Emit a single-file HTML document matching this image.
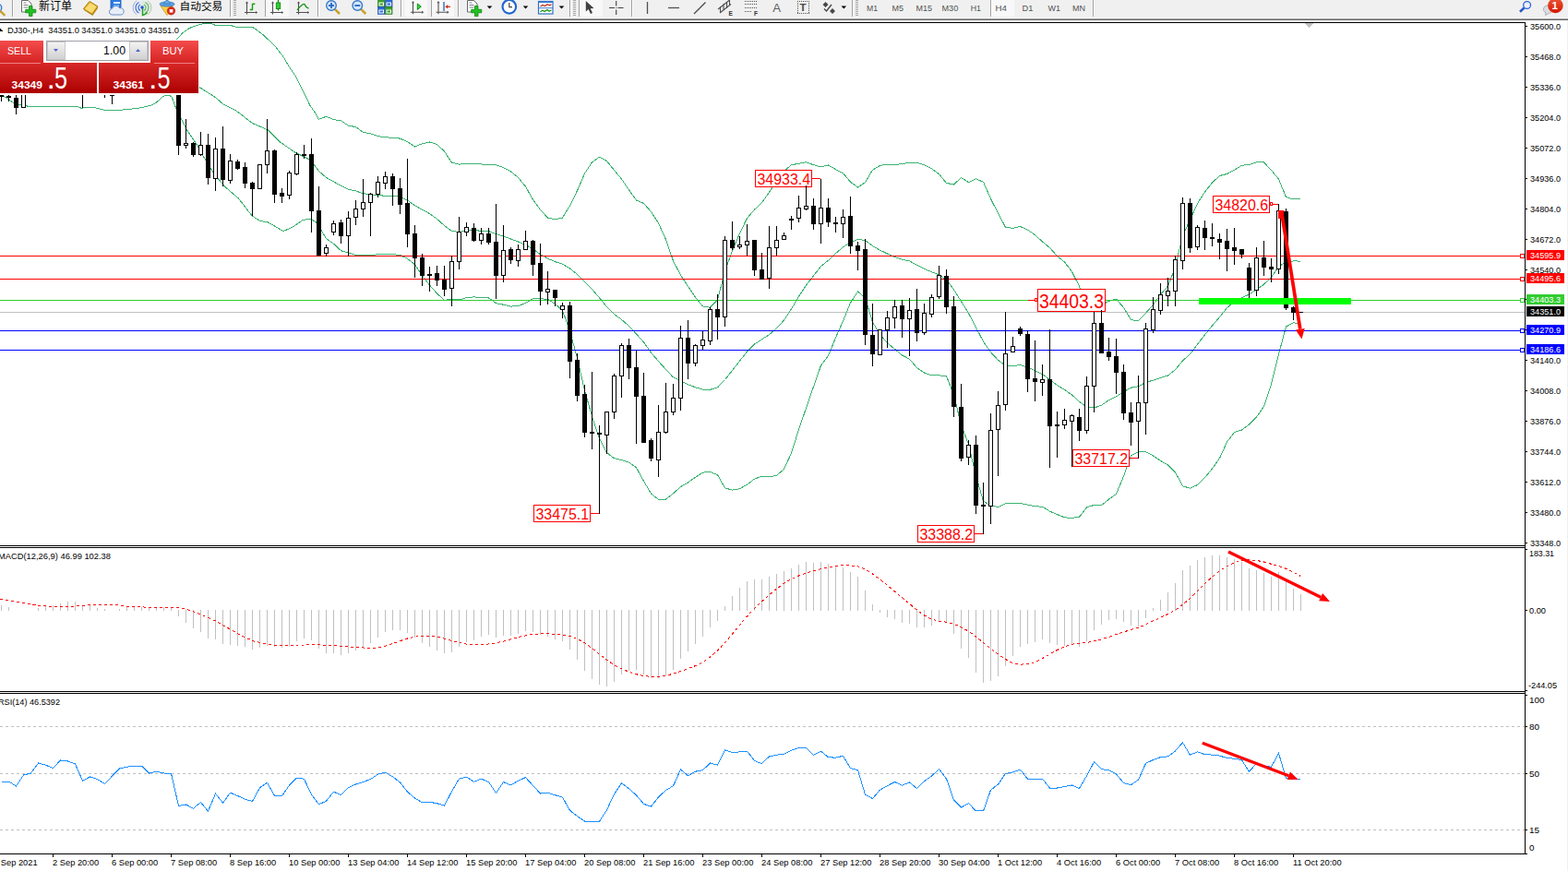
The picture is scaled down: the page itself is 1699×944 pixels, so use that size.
<!DOCTYPE html><html><head><meta charset="utf-8"><style>html,body{margin:0;padding:0;background:#fff;overflow:hidden}svg{display:block}</style></head><body><svg width="1699" height="944" viewBox="0 0 1699 944" font-family="Liberation Sans, sans-serif" shape-rendering="crispEdges">
<defs><clipPath id="mainclip"><rect x="0" y="25" width="1652" height="566"/></clipPath>
<linearGradient id="gbtn" x1="0" y1="0" x2="0" y2="1"><stop offset="0" stop-color="#f44c4c"/><stop offset="1" stop-color="#d42222"/></linearGradient>
<linearGradient id="gprice" x1="0" y1="0" x2="0" y2="1"><stop offset="0" stop-color="#d82828"/><stop offset="1" stop-color="#ac0000"/></linearGradient>
<linearGradient id="gspin" x1="0" y1="0" x2="0" y2="1"><stop offset="0" stop-color="#f4f4f4"/><stop offset="1" stop-color="#d0d0d0"/></linearGradient>
</defs>
<rect x="0" y="0" width="1699" height="944" fill="#fff"/>
<rect x="0" y="0" width="1699" height="20" fill="#f0f0f0"/>
<rect x="0" y="20" width="1699" height="1" fill="#a0a0a0"/>
<rect x="0" y="21" width="1699" height="1" fill="#696969"/>
<rect x="0" y="24" width="1653" height="1" fill="#000"/>
<rect x="1652" y="24" width="1" height="902" fill="#000"/>
<rect x="0" y="591" width="1653" height="1" fill="#000"/>
<rect x="0" y="593" width="1653" height="1" fill="#000"/>
<rect x="0" y="749" width="1653" height="1" fill="#000"/>
<rect x="0" y="751" width="1653" height="1" fill="#000"/>
<rect x="0" y="925" width="1653" height="1" fill="#000"/>
<rect x="1698" y="22" width="1" height="922" fill="#f0f0f0"/>
<rect x="0" y="338" width="1652" height="1" fill="#c0c0c0"/>
<g clip-path="url(#mainclip)">
<polyline points="150.0,80.0 186.0,48.0 192.4,41.7 197.7,35.9 205.0,30.6 213.6,27.4 221.0,25.4 227.0,25.1 233.0,27.2 241.0,27.4 250.6,27.7 256.0,29.4 270.0,29.4 273.8,29.6 277.6,32.1 285.2,37.8 298.0,49.9 306.8,61.3 313.2,72.1 320.8,83.5 325.9,93.7 331.0,103.9 336.1,114.7 341.2,121.7 345.2,129.3 353.5,126.3 361.5,129.6 369.5,130.8 377.5,136.2 385.5,137.5 393.5,143.5 401.5,144.7 409.5,147.6 417.5,148.8 425.5,149.3 433.5,150.1 441.5,153.7 449.5,159.0 457.5,155.7 465.5,154.0 473.5,156.6 481.5,164.0 489.5,176.3 497.5,178.1 505.5,177.5 513.5,177.4 521.5,178.0 529.5,178.2 537.5,178.7 545.5,181.6 553.5,186.0 561.5,192.4 569.5,202.2 577.5,216.3 585.5,227.4 593.5,236.1 601.5,237.8 609.5,236.0 617.5,222.9 625.5,206.6 633.5,188.1 641.5,175.9 649.5,170.1 657.5,174.5 665.5,184.5 673.5,194.1 681.5,205.9 689.5,217.0 697.5,220.4 705.5,229.5 713.5,241.8 721.5,259.6 729.5,282.9 737.5,298.1 745.5,310.4 753.5,322.3 761.5,332.0 769.5,333.2 777.5,325.1 785.5,294.1 793.5,271.9 801.5,252.9 809.5,236.5 817.5,227.2 825.5,219.8 833.5,208.3 841.5,196.2 849.5,185.5 857.5,178.8 865.5,177.2 873.5,175.8 881.5,178.7 889.5,180.9 897.5,179.0 905.5,183.6 913.5,187.6 921.5,197.2 929.5,203.0 937.5,197.8 945.5,184.1 953.5,179.5 961.5,178.1 969.5,178.8 977.5,177.4 985.5,176.6 993.5,176.3 1001.5,178.8 1009.5,182.6 1017.5,188.7 1025.5,198.4 1033.5,200.0 1041.5,192.5 1049.5,197.6 1057.5,193.9 1065.5,197.2 1073.5,215.5 1081.5,231.2 1089.5,246.3 1097.5,247.3 1105.5,245.5 1113.5,249.1 1121.5,254.6 1129.5,262.0 1137.5,268.6 1145.5,277.6 1153.5,284.0 1161.5,294.6 1169.5,310.2 1177.5,332.5 1185.5,336.8 1193.5,330.7 1201.5,326.3 1209.5,324.1 1217.5,333.4 1225.5,346.6 1233.5,347.7 1241.5,339.3 1249.5,330.4 1257.5,319.4 1265.5,310.1 1273.5,289.4 1281.5,255.1 1289.5,238.4 1297.5,220.6 1305.5,208.0 1313.5,198.0 1321.5,190.5 1329.5,188.5 1337.5,184.2 1345.5,179.3 1353.5,178.5 1361.5,175.7 1369.5,176.0 1377.5,184.5 1385.5,194.1 1393.5,213.6 1401.5,216.0 1409.5,215.7" fill="none" stroke="#3cb371" stroke-width="1" />
<polyline points="150.0,80.0 217.3,95.2 233.7,105.8 241.4,112.5 254.9,119.5 258.4,121.8 273.2,133.4 290.2,140.8 302.9,153.6 319.8,165.2 336.8,173.7 345.3,185.3 353.5,192.5 361.5,196.9 369.5,201.3 377.5,205.2 385.5,206.9 393.5,209.8 401.5,210.6 409.5,211.7 417.5,212.2 425.5,212.5 433.5,213.3 441.5,217.1 449.5,222.8 457.5,227.2 465.5,231.5 473.5,237.3 481.5,244.6 489.5,250.4 497.5,251.5 505.5,250.1 513.5,249.7 521.5,250.2 529.5,250.6 537.5,253.7 545.5,255.9 553.5,259.0 561.5,262.0 569.5,265.3 577.5,270.0 585.5,275.6 593.5,280.2 601.5,283.7 609.5,286.2 617.5,290.9 625.5,297.4 633.5,305.7 641.5,313.5 649.5,322.8 657.5,332.6 665.5,340.6 673.5,346.3 681.5,353.5 689.5,361.9 697.5,370.9 705.5,382.2 713.5,391.6 721.5,400.4 729.5,408.9 737.5,412.8 745.5,416.7 753.5,419.8 761.5,422.1 769.5,422.3 777.5,419.9 785.5,411.5 793.5,401.5 801.5,391.3 809.5,380.8 817.5,373.1 825.5,367.9 833.5,362.6 841.5,355.7 849.5,347.0 857.5,334.9 865.5,321.4 873.5,309.1 881.5,298.9 889.5,288.6 897.5,282.3 905.5,274.7 913.5,267.8 921.5,262.7 929.5,259.5 937.5,260.5 945.5,266.6 953.5,271.1 961.5,275.0 969.5,278.5 977.5,281.2 985.5,282.9 993.5,287.4 1001.5,291.4 1009.5,294.7 1017.5,297.8 1025.5,303.1 1033.5,313.9 1041.5,326.6 1049.5,339.5 1057.5,354.9 1065.5,370.2 1073.5,381.7 1081.5,390.4 1089.5,396.0 1097.5,396.6 1105.5,395.5 1113.5,398.1 1121.5,401.6 1129.5,405.6 1137.5,411.4 1145.5,417.6 1153.5,422.4 1161.5,428.0 1169.5,435.2 1177.5,441.2 1185.5,442.1 1193.5,439.2 1201.5,433.7 1209.5,429.8 1217.5,424.7 1225.5,420.2 1233.5,418.7 1241.5,414.5 1249.5,412.1 1257.5,409.4 1265.5,407.0 1273.5,400.6 1281.5,390.9 1289.5,383.8 1297.5,373.1 1305.5,362.9 1313.5,353.0 1321.5,343.6 1329.5,333.7 1337.5,326.4 1345.5,322.6 1353.5,319.2 1361.5,313.9 1369.5,308.2 1377.5,300.4 1385.5,289.0 1393.5,283.8 1401.5,282.9 1409.5,283.1" fill="none" stroke="#3cb371" stroke-width="1" />
<polyline points="0.0,102.0 4.1,104.4 10.7,108.5 15.2,112.2 20.6,113.6 28.0,114.2 30.5,115.5 83.2,115.5 88.6,117.4 93.1,116.3 101.4,116.3 108.0,118.0 112.5,119.2 132.7,119.2 135.1,118.4 147.7,117.8 163.0,114.4 169.0,111.5 176.5,104.7 179.1,103.3 182.8,103.3 186.0,104.7 190.3,116.3 192.7,121.8 201.2,138.7 213.9,157.8 223.4,174.7 233.0,189.6 243.6,202.3 258.4,215.0 273.2,234.1 281.7,239.4 290.2,240.8 307.1,250.6 317.7,245.7 328.3,238.3 336.8,237.2 343.1,241.5 353.5,258.7 361.5,264.2 369.5,271.7 377.5,274.2 385.5,276.3 393.5,276.1 401.5,276.5 409.5,275.8 417.5,275.6 425.5,275.7 433.5,276.5 441.5,280.4 449.5,286.7 457.5,298.8 465.5,309.1 473.5,318.1 481.5,325.2 489.5,324.5 497.5,324.9 505.5,322.6 513.5,321.9 521.5,322.4 529.5,322.9 537.5,328.7 545.5,330.2 553.5,332.1 561.5,331.7 569.5,328.3 577.5,323.8 585.5,323.8 593.5,324.3 601.5,329.5 609.5,336.5 617.5,358.9 625.5,388.2 633.5,423.3 641.5,451.1 649.5,475.5 657.5,490.6 665.5,496.7 673.5,498.5 681.5,501.1 689.5,506.8 697.5,521.4 705.5,534.9 713.5,541.4 721.5,541.1 729.5,534.8 737.5,527.6 745.5,523.0 753.5,517.2 761.5,512.1 769.5,511.4 777.5,514.7 785.5,528.9 793.5,531.1 801.5,529.7 809.5,525.2 817.5,519.1 825.5,516.1 833.5,516.9 841.5,515.3 849.5,508.5 857.5,491.0 865.5,465.5 873.5,442.3 881.5,419.1 889.5,396.2 897.5,385.6 905.5,365.8 913.5,347.9 921.5,328.2 929.5,316.0 937.5,323.1 945.5,349.1 953.5,362.6 961.5,371.8 969.5,378.3 977.5,385.0 985.5,389.1 993.5,398.6 1001.5,404.0 1009.5,406.8 1017.5,406.8 1025.5,407.7 1033.5,427.9 1041.5,460.8 1049.5,481.5 1057.5,515.9 1065.5,543.2 1073.5,547.9 1081.5,549.6 1089.5,545.7 1097.5,545.8 1105.5,545.4 1113.5,547.2 1121.5,548.7 1129.5,549.2 1137.5,554.1 1145.5,557.6 1153.5,560.8 1161.5,561.4 1169.5,560.3 1177.5,549.9 1185.5,547.4 1193.5,547.7 1201.5,541.1 1209.5,535.5 1217.5,516.1 1225.5,493.8 1233.5,489.7 1241.5,489.8 1249.5,493.9 1257.5,499.4 1265.5,504.0 1273.5,511.8 1281.5,526.8 1289.5,529.2 1297.5,525.6 1305.5,517.7 1313.5,508.0 1321.5,496.6 1329.5,479.0 1337.5,468.5 1345.5,466.0 1353.5,460.0 1361.5,452.1 1369.5,440.3 1377.5,416.3 1385.5,383.9 1393.5,354.0 1401.5,349.9 1409.5,350.4" fill="none" stroke="#3cb371" stroke-width="1" />
</g>
<rect x="0" y="277" width="1652" height="1" fill="#ff0000"/>
<rect x="0" y="302" width="1652" height="1" fill="#ff0000"/>
<rect x="0" y="325" width="1652" height="1" fill="#32cd32"/>
<rect x="0" y="358" width="1652" height="1" fill="#0000ff"/>
<rect x="0" y="379" width="1652" height="1" fill="#0000ff"/>
<rect x="818.5" y="184.5" width="61" height="18" fill="#fff" stroke="#ff0000" stroke-width="1"/>
<text x="820.5" y="200" font-size="16" fill="#ff0000" text-anchor="start" font-weight="normal" textLength="57.5" lengthAdjust="spacingAndGlyphs" >34933.4</text>
<rect x="880" y="193" width="9" height="1" fill="#ff0000"/>
<rect x="1314.5" y="212.5" width="61" height="18" fill="#fff" stroke="#ff0000" stroke-width="1"/>
<text x="1316.5" y="228" font-size="16" fill="#ff0000" text-anchor="start" font-weight="normal" textLength="57.5" lengthAdjust="spacingAndGlyphs" >34820.6</text>
<rect x="1376" y="221" width="9" height="1" fill="#ff0000"/>
<rect x="578.5" y="547.5" width="61" height="18" fill="#fff" stroke="#ff0000" stroke-width="1"/>
<text x="580.5" y="563" font-size="16" fill="#ff0000" text-anchor="start" font-weight="normal" textLength="57.5" lengthAdjust="spacingAndGlyphs" >33475.1</text>
<rect x="640" y="556" width="9" height="1" fill="#ff0000"/>
<rect x="994.5" y="569.5" width="61" height="18" fill="#fff" stroke="#ff0000" stroke-width="1"/>
<text x="996.5" y="585" font-size="16" fill="#ff0000" text-anchor="start" font-weight="normal" textLength="57.5" lengthAdjust="spacingAndGlyphs" >33388.2</text>
<rect x="1056" y="578" width="9" height="1" fill="#ff0000"/>
<rect x="1162.5" y="487.5" width="61" height="18" fill="#fff" stroke="#ff0000" stroke-width="1"/>
<text x="1164.5" y="503" font-size="16" fill="#ff0000" text-anchor="start" font-weight="normal" textLength="57.5" lengthAdjust="spacingAndGlyphs" >33717.2</text>
<rect x="1224" y="496" width="9" height="1" fill="#ff0000"/>
<rect x="1376.5" y="219.5" width="2" height="3" fill="#fff" stroke="#ff0000" stroke-width="1"/>
<rect x="1124.5" y="313.5" width="73" height="24" fill="#fff" stroke="#ff0000" stroke-width="1"/>
<text x="1126" y="334" font-size="22" fill="#ff0000" text-anchor="start" font-weight="normal" textLength="70" lengthAdjust="spacingAndGlyphs" >34403.3</text>
<rect x="1114" y="325" width="7" height="1" fill="#ff0000"/>
<rect x="1121.5" y="323.5" width="2" height="3" fill="#fff" stroke="#ff0000" stroke-width="1"/>
<rect x="1" y="95" width="1" height="15" fill="#000"/>
<rect x="-0.5" y="103.5" width="4" height="1" fill="#fff" stroke="#000" stroke-width="1"/>
<rect x="9" y="100" width="1" height="10" fill="#000"/>
<rect x="7" y="104" width="5" height="2" fill="#000"/>
<rect x="17" y="102" width="1" height="22" fill="#000"/>
<rect x="15" y="106" width="5" height="11" fill="#000"/>
<rect x="25" y="96" width="1" height="21" fill="#000"/>
<rect x="23.5" y="98.5" width="4" height="18" fill="#fff" stroke="#000" stroke-width="1"/>
<rect x="33" y="90" width="1" height="10" fill="#000"/>
<rect x="31.5" y="92.5" width="4" height="6" fill="#fff" stroke="#000" stroke-width="1"/>
<rect x="41" y="78" width="1" height="16" fill="#000"/>
<rect x="39.5" y="80.5" width="4" height="12" fill="#fff" stroke="#000" stroke-width="1"/>
<rect x="49" y="78" width="1" height="9" fill="#000"/>
<rect x="47" y="80" width="5" height="4" fill="#000"/>
<rect x="57" y="80" width="1" height="11" fill="#000"/>
<rect x="55" y="83" width="5" height="5" fill="#000"/>
<rect x="65" y="72" width="1" height="17" fill="#000"/>
<rect x="63.5" y="75.5" width="4" height="12" fill="#fff" stroke="#000" stroke-width="1"/>
<rect x="73" y="72" width="1" height="9" fill="#000"/>
<rect x="71" y="75" width="5" height="3" fill="#000"/>
<rect x="81" y="75" width="1" height="10" fill="#000"/>
<rect x="79" y="77" width="5" height="5" fill="#000"/>
<rect x="89" y="80" width="1" height="37" fill="#000"/>
<rect x="87" y="81" width="5" height="18" fill="#000"/>
<rect x="97" y="90" width="1" height="11" fill="#000"/>
<rect x="95.5" y="93.5" width="4" height="5" fill="#fff" stroke="#000" stroke-width="1"/>
<rect x="105" y="91" width="1" height="9" fill="#000"/>
<rect x="103" y="93" width="5" height="4" fill="#000"/>
<rect x="113" y="94" width="1" height="12" fill="#000"/>
<rect x="111" y="96" width="5" height="6" fill="#000"/>
<rect x="121" y="90" width="1" height="23" fill="#000"/>
<rect x="119.5" y="92.5" width="4" height="11" fill="#fff" stroke="#000" stroke-width="1"/>
<rect x="129" y="80" width="1" height="13" fill="#000"/>
<rect x="127.5" y="82.5" width="4" height="8" fill="#fff" stroke="#000" stroke-width="1"/>
<rect x="137" y="78" width="1" height="7" fill="#000"/>
<rect x="135.5" y="80.5" width="4" height="2" fill="#fff" stroke="#000" stroke-width="1"/>
<rect x="145" y="76" width="1" height="7" fill="#000"/>
<rect x="143.5" y="78.5" width="4" height="2" fill="#fff" stroke="#000" stroke-width="1"/>
<rect x="153" y="76" width="1" height="6" fill="#000"/>
<rect x="151" y="77" width="5" height="2" fill="#000"/>
<rect x="161" y="76" width="1" height="13" fill="#000"/>
<rect x="159" y="78" width="5" height="9" fill="#000"/>
<rect x="169" y="82" width="1" height="7" fill="#000"/>
<rect x="167.5" y="84.5" width="4" height="2" fill="#fff" stroke="#000" stroke-width="1"/>
<rect x="177" y="82" width="1" height="7" fill="#000"/>
<rect x="175" y="84" width="5" height="3" fill="#000"/>
<rect x="185" y="84" width="1" height="5" fill="#000"/>
<rect x="183" y="85" width="5" height="2" fill="#000"/>
<rect x="193" y="103" width="1" height="65" fill="#000"/>
<rect x="191" y="103" width="5" height="55" fill="#000"/>
<rect x="201" y="129" width="1" height="32" fill="#000"/>
<rect x="199.5" y="155.5" width="4" height="2" fill="#fff" stroke="#000" stroke-width="1"/>
<rect x="209" y="154" width="1" height="16" fill="#000"/>
<rect x="207" y="155" width="5" height="13" fill="#000"/>
<rect x="217" y="143" width="1" height="26" fill="#000"/>
<rect x="215.5" y="157.5" width="4" height="10" fill="#fff" stroke="#000" stroke-width="1"/>
<rect x="225" y="145" width="1" height="55" fill="#000"/>
<rect x="223" y="157" width="5" height="36" fill="#000"/>
<rect x="233" y="149" width="1" height="58" fill="#000"/>
<rect x="231.5" y="161.5" width="4" height="32" fill="#fff" stroke="#000" stroke-width="1"/>
<rect x="241" y="137" width="1" height="65" fill="#000"/>
<rect x="239" y="161" width="5" height="34" fill="#000"/>
<rect x="249" y="167" width="1" height="32" fill="#000"/>
<rect x="247.5" y="174.5" width="4" height="21" fill="#fff" stroke="#000" stroke-width="1"/>
<rect x="257" y="173" width="1" height="11" fill="#000"/>
<rect x="255" y="175" width="5" height="8" fill="#000"/>
<rect x="265" y="176" width="1" height="28" fill="#000"/>
<rect x="263" y="181" width="5" height="18" fill="#000"/>
<rect x="273" y="197" width="1" height="37" fill="#000"/>
<rect x="271" y="198" width="5" height="7" fill="#000"/>
<rect x="281" y="178" width="1" height="27" fill="#000"/>
<rect x="279.5" y="178.5" width="4" height="26" fill="#fff" stroke="#000" stroke-width="1"/>
<rect x="289" y="129" width="1" height="59" fill="#000"/>
<rect x="287.5" y="163.5" width="4" height="15" fill="#fff" stroke="#000" stroke-width="1"/>
<rect x="297" y="162" width="1" height="58" fill="#000"/>
<rect x="295" y="163" width="5" height="48" fill="#000"/>
<rect x="305" y="204" width="1" height="16" fill="#000"/>
<rect x="303" y="209" width="5" height="4" fill="#000"/>
<rect x="313" y="185" width="1" height="31" fill="#000"/>
<rect x="311.5" y="187.5" width="4" height="24" fill="#fff" stroke="#000" stroke-width="1"/>
<rect x="321" y="165" width="1" height="25" fill="#000"/>
<rect x="319.5" y="167.5" width="4" height="21" fill="#fff" stroke="#000" stroke-width="1"/>
<rect x="329" y="157" width="1" height="15" fill="#000"/>
<rect x="327" y="167" width="5" height="2" fill="#000"/>
<rect x="337" y="150" width="1" height="102" fill="#000"/>
<rect x="335" y="167" width="5" height="62" fill="#000"/>
<rect x="345" y="202" width="1" height="76" fill="#000"/>
<rect x="343" y="228" width="5" height="49" fill="#000"/>
<rect x="353" y="265" width="1" height="13" fill="#000"/>
<rect x="351.5" y="268.5" width="4" height="6" fill="#fff" stroke="#000" stroke-width="1"/>
<rect x="361" y="239" width="1" height="16" fill="#000"/>
<rect x="359.5" y="242.5" width="4" height="9" fill="#fff" stroke="#000" stroke-width="1"/>
<rect x="369" y="238" width="1" height="26" fill="#000"/>
<rect x="367" y="241" width="5" height="15" fill="#000"/>
<rect x="377" y="229" width="1" height="49" fill="#000"/>
<rect x="375.5" y="236.5" width="4" height="19" fill="#fff" stroke="#000" stroke-width="1"/>
<rect x="385" y="217" width="1" height="27" fill="#000"/>
<rect x="383.5" y="226.5" width="4" height="9" fill="#fff" stroke="#000" stroke-width="1"/>
<rect x="393" y="194" width="1" height="41" fill="#000"/>
<rect x="391.5" y="219.5" width="4" height="7" fill="#fff" stroke="#000" stroke-width="1"/>
<rect x="401" y="209" width="1" height="47" fill="#000"/>
<rect x="399.5" y="210.5" width="4" height="9" fill="#fff" stroke="#000" stroke-width="1"/>
<rect x="409" y="191" width="1" height="23" fill="#000"/>
<rect x="407.5" y="197.5" width="4" height="13" fill="#fff" stroke="#000" stroke-width="1"/>
<rect x="417" y="186" width="1" height="19" fill="#000"/>
<rect x="415.5" y="191.5" width="4" height="7" fill="#fff" stroke="#000" stroke-width="1"/>
<rect x="425" y="188" width="1" height="35" fill="#000"/>
<rect x="423" y="191" width="5" height="14" fill="#000"/>
<rect x="433" y="193" width="1" height="39" fill="#000"/>
<rect x="431" y="204" width="5" height="18" fill="#000"/>
<rect x="441" y="172" width="1" height="96" fill="#000"/>
<rect x="439" y="220" width="5" height="34" fill="#000"/>
<rect x="449" y="244" width="1" height="57" fill="#000"/>
<rect x="447" y="253" width="5" height="27" fill="#000"/>
<rect x="457" y="275" width="1" height="35" fill="#000"/>
<rect x="455" y="279" width="5" height="20" fill="#000"/>
<rect x="465" y="289" width="1" height="27" fill="#000"/>
<rect x="463" y="297" width="5" height="2" fill="#000"/>
<rect x="473" y="288" width="1" height="22" fill="#000"/>
<rect x="471" y="296" width="5" height="8" fill="#000"/>
<rect x="481" y="288" width="1" height="33" fill="#000"/>
<rect x="479" y="303" width="5" height="11" fill="#000"/>
<rect x="489" y="277" width="1" height="55" fill="#000"/>
<rect x="487.5" y="283.5" width="4" height="29" fill="#fff" stroke="#000" stroke-width="1"/>
<rect x="497" y="235" width="1" height="57" fill="#000"/>
<rect x="495.5" y="251.5" width="4" height="32" fill="#fff" stroke="#000" stroke-width="1"/>
<rect x="505" y="241" width="1" height="15" fill="#000"/>
<rect x="503.5" y="246.5" width="4" height="5" fill="#fff" stroke="#000" stroke-width="1"/>
<rect x="513" y="242" width="1" height="20" fill="#000"/>
<rect x="511" y="247" width="5" height="14" fill="#000"/>
<rect x="521" y="247" width="1" height="18" fill="#000"/>
<rect x="519.5" y="253.5" width="4" height="7" fill="#fff" stroke="#000" stroke-width="1"/>
<rect x="529" y="247" width="1" height="18" fill="#000"/>
<rect x="527" y="253" width="5" height="10" fill="#000"/>
<rect x="537" y="221" width="1" height="103" fill="#000"/>
<rect x="535" y="262" width="5" height="37" fill="#000"/>
<rect x="545" y="244" width="1" height="62" fill="#000"/>
<rect x="543.5" y="271.5" width="4" height="27" fill="#fff" stroke="#000" stroke-width="1"/>
<rect x="553" y="268" width="1" height="18" fill="#000"/>
<rect x="551" y="270" width="5" height="12" fill="#000"/>
<rect x="561" y="265" width="1" height="24" fill="#000"/>
<rect x="559.5" y="270.5" width="4" height="12" fill="#fff" stroke="#000" stroke-width="1"/>
<rect x="569" y="250" width="1" height="21" fill="#000"/>
<rect x="567.5" y="261.5" width="4" height="9" fill="#fff" stroke="#000" stroke-width="1"/>
<rect x="577" y="260" width="1" height="39" fill="#000"/>
<rect x="575" y="261" width="5" height="26" fill="#000"/>
<rect x="585" y="264" width="1" height="67" fill="#000"/>
<rect x="583" y="285" width="5" height="31" fill="#000"/>
<rect x="593" y="294" width="1" height="36" fill="#000"/>
<rect x="591.5" y="313.5" width="4" height="3" fill="#fff" stroke="#000" stroke-width="1"/>
<rect x="601" y="314" width="1" height="18" fill="#000"/>
<rect x="599" y="314" width="5" height="9" fill="#000"/>
<rect x="609" y="328" width="1" height="17" fill="#000"/>
<rect x="607.5" y="331.5" width="4" height="4" fill="#fff" stroke="#000" stroke-width="1"/>
<rect x="617" y="327" width="1" height="83" fill="#000"/>
<rect x="615" y="331" width="5" height="61" fill="#000"/>
<rect x="625" y="383" width="1" height="52" fill="#000"/>
<rect x="623" y="390" width="5" height="39" fill="#000"/>
<rect x="633" y="417" width="1" height="57" fill="#000"/>
<rect x="631" y="427" width="5" height="42" fill="#000"/>
<rect x="641" y="403" width="1" height="84" fill="#000"/>
<rect x="639" y="468" width="5" height="2" fill="#000"/>
<rect x="649" y="461" width="1" height="96" fill="#000"/>
<rect x="647" y="469" width="5" height="2" fill="#000"/>
<rect x="657" y="446" width="1" height="46" fill="#000"/>
<rect x="655.5" y="446.5" width="4" height="25" fill="#fff" stroke="#000" stroke-width="1"/>
<rect x="665" y="405" width="1" height="49" fill="#000"/>
<rect x="663.5" y="407.5" width="4" height="39" fill="#fff" stroke="#000" stroke-width="1"/>
<rect x="673" y="372" width="1" height="59" fill="#000"/>
<rect x="671.5" y="374.5" width="4" height="33" fill="#fff" stroke="#000" stroke-width="1"/>
<rect x="681" y="367" width="1" height="44" fill="#000"/>
<rect x="679" y="374" width="5" height="25" fill="#000"/>
<rect x="689" y="380" width="1" height="101" fill="#000"/>
<rect x="687" y="398" width="5" height="32" fill="#000"/>
<rect x="697" y="404" width="1" height="76" fill="#000"/>
<rect x="695" y="429" width="5" height="51" fill="#000"/>
<rect x="705" y="475" width="1" height="25" fill="#000"/>
<rect x="703" y="477" width="5" height="20" fill="#000"/>
<rect x="713" y="439" width="1" height="78" fill="#000"/>
<rect x="711.5" y="468.5" width="4" height="30" fill="#fff" stroke="#000" stroke-width="1"/>
<rect x="721" y="415" width="1" height="55" fill="#000"/>
<rect x="719.5" y="446.5" width="4" height="22" fill="#fff" stroke="#000" stroke-width="1"/>
<rect x="729" y="416" width="1" height="34" fill="#000"/>
<rect x="727.5" y="431.5" width="4" height="15" fill="#fff" stroke="#000" stroke-width="1"/>
<rect x="737" y="353" width="1" height="92" fill="#000"/>
<rect x="735.5" y="366.5" width="4" height="65" fill="#fff" stroke="#000" stroke-width="1"/>
<rect x="745" y="347" width="1" height="64" fill="#000"/>
<rect x="743" y="366" width="5" height="28" fill="#000"/>
<rect x="753" y="373" width="1" height="24" fill="#000"/>
<rect x="751.5" y="374.5" width="4" height="19" fill="#fff" stroke="#000" stroke-width="1"/>
<rect x="761" y="359" width="1" height="20" fill="#000"/>
<rect x="759.5" y="368.5" width="4" height="6" fill="#fff" stroke="#000" stroke-width="1"/>
<rect x="769" y="333" width="1" height="41" fill="#000"/>
<rect x="767.5" y="335.5" width="4" height="34" fill="#fff" stroke="#000" stroke-width="1"/>
<rect x="777" y="319" width="1" height="49" fill="#000"/>
<rect x="775" y="335" width="5" height="9" fill="#000"/>
<rect x="785" y="256" width="1" height="98" fill="#000"/>
<rect x="783.5" y="260.5" width="4" height="83" fill="#fff" stroke="#000" stroke-width="1"/>
<rect x="793" y="240" width="1" height="31" fill="#000"/>
<rect x="791" y="260" width="5" height="9" fill="#000"/>
<rect x="801" y="256" width="1" height="14" fill="#000"/>
<rect x="799.5" y="265.5" width="4" height="2" fill="#fff" stroke="#000" stroke-width="1"/>
<rect x="809" y="243" width="1" height="34" fill="#000"/>
<rect x="807.5" y="261.5" width="4" height="4" fill="#fff" stroke="#000" stroke-width="1"/>
<rect x="817" y="260" width="1" height="39" fill="#000"/>
<rect x="815" y="260" width="5" height="33" fill="#000"/>
<rect x="825" y="274" width="1" height="29" fill="#000"/>
<rect x="823" y="292" width="5" height="11" fill="#000"/>
<rect x="833" y="245" width="1" height="68" fill="#000"/>
<rect x="831.5" y="268.5" width="4" height="33" fill="#fff" stroke="#000" stroke-width="1"/>
<rect x="841" y="245" width="1" height="32" fill="#000"/>
<rect x="839.5" y="260.5" width="4" height="8" fill="#fff" stroke="#000" stroke-width="1"/>
<rect x="849" y="252" width="1" height="8" fill="#000"/>
<rect x="847.5" y="255.5" width="4" height="4" fill="#fff" stroke="#000" stroke-width="1"/>
<rect x="857" y="234" width="1" height="15" fill="#000"/>
<rect x="855" y="237" width="5" height="2" fill="#000"/>
<rect x="865" y="212" width="1" height="29" fill="#000"/>
<rect x="863.5" y="225.5" width="4" height="11" fill="#fff" stroke="#000" stroke-width="1"/>
<rect x="873" y="201" width="1" height="27" fill="#000"/>
<rect x="871.5" y="223.5" width="4" height="3" fill="#fff" stroke="#000" stroke-width="1"/>
<rect x="881" y="215" width="1" height="34" fill="#000"/>
<rect x="879" y="223" width="5" height="20" fill="#000"/>
<rect x="889" y="194" width="1" height="70" fill="#000"/>
<rect x="887.5" y="225.5" width="4" height="17" fill="#fff" stroke="#000" stroke-width="1"/>
<rect x="897" y="215" width="1" height="31" fill="#000"/>
<rect x="895" y="225" width="5" height="16" fill="#000"/>
<rect x="905" y="235" width="1" height="17" fill="#000"/>
<rect x="903" y="241" width="5" height="2" fill="#000"/>
<rect x="913" y="227" width="1" height="31" fill="#000"/>
<rect x="911.5" y="235.5" width="4" height="7" fill="#fff" stroke="#000" stroke-width="1"/>
<rect x="921" y="213" width="1" height="62" fill="#000"/>
<rect x="919" y="234" width="5" height="33" fill="#000"/>
<rect x="929" y="262" width="1" height="31" fill="#000"/>
<rect x="927" y="266" width="5" height="6" fill="#000"/>
<rect x="937" y="259" width="1" height="115" fill="#000"/>
<rect x="935" y="270" width="5" height="93" fill="#000"/>
<rect x="945" y="329" width="1" height="68" fill="#000"/>
<rect x="943" y="363" width="5" height="21" fill="#000"/>
<rect x="953" y="357" width="1" height="28" fill="#000"/>
<rect x="951.5" y="357.5" width="4" height="27" fill="#fff" stroke="#000" stroke-width="1"/>
<rect x="961" y="337" width="1" height="40" fill="#000"/>
<rect x="959.5" y="344.5" width="4" height="13" fill="#fff" stroke="#000" stroke-width="1"/>
<rect x="969" y="325" width="1" height="31" fill="#000"/>
<rect x="967.5" y="332.5" width="4" height="12" fill="#fff" stroke="#000" stroke-width="1"/>
<rect x="977" y="325" width="1" height="41" fill="#000"/>
<rect x="975" y="331" width="5" height="15" fill="#000"/>
<rect x="985" y="323" width="1" height="63" fill="#000"/>
<rect x="983.5" y="336.5" width="4" height="9" fill="#fff" stroke="#000" stroke-width="1"/>
<rect x="993" y="313" width="1" height="57" fill="#000"/>
<rect x="991" y="335" width="5" height="26" fill="#000"/>
<rect x="1001" y="329" width="1" height="34" fill="#000"/>
<rect x="999.5" y="339.5" width="4" height="21" fill="#fff" stroke="#000" stroke-width="1"/>
<rect x="1009" y="319" width="1" height="25" fill="#000"/>
<rect x="1007.5" y="322.5" width="4" height="18" fill="#fff" stroke="#000" stroke-width="1"/>
<rect x="1017" y="288" width="1" height="36" fill="#000"/>
<rect x="1015.5" y="298.5" width="4" height="23" fill="#fff" stroke="#000" stroke-width="1"/>
<rect x="1025" y="292" width="1" height="48" fill="#000"/>
<rect x="1023" y="299" width="5" height="34" fill="#000"/>
<rect x="1033" y="321" width="1" height="131" fill="#000"/>
<rect x="1031" y="332" width="5" height="109" fill="#000"/>
<rect x="1041" y="416" width="1" height="84" fill="#000"/>
<rect x="1039" y="441" width="5" height="56" fill="#000"/>
<rect x="1049" y="477" width="1" height="27" fill="#000"/>
<rect x="1047.5" y="482.5" width="4" height="13" fill="#fff" stroke="#000" stroke-width="1"/>
<rect x="1057" y="472" width="1" height="85" fill="#000"/>
<rect x="1055" y="482" width="5" height="66" fill="#000"/>
<rect x="1065" y="523" width="1" height="56" fill="#000"/>
<rect x="1063" y="547" width="5" height="2" fill="#000"/>
<rect x="1073" y="448" width="1" height="120" fill="#000"/>
<rect x="1071.5" y="466.5" width="4" height="82" fill="#fff" stroke="#000" stroke-width="1"/>
<rect x="1081" y="424" width="1" height="92" fill="#000"/>
<rect x="1079.5" y="439.5" width="4" height="26" fill="#fff" stroke="#000" stroke-width="1"/>
<rect x="1089" y="338" width="1" height="107" fill="#000"/>
<rect x="1087.5" y="383.5" width="4" height="55" fill="#fff" stroke="#000" stroke-width="1"/>
<rect x="1097" y="365" width="1" height="17" fill="#000"/>
<rect x="1095.5" y="375.5" width="4" height="6" fill="#fff" stroke="#000" stroke-width="1"/>
<rect x="1105" y="354" width="1" height="10" fill="#000"/>
<rect x="1103" y="356" width="5" height="6" fill="#000"/>
<rect x="1113" y="358" width="1" height="67" fill="#000"/>
<rect x="1111" y="362" width="5" height="49" fill="#000"/>
<rect x="1121" y="369" width="1" height="66" fill="#000"/>
<rect x="1119" y="410" width="5" height="4" fill="#000"/>
<rect x="1129" y="395" width="1" height="34" fill="#000"/>
<rect x="1127.5" y="411.5" width="4" height="3" fill="#fff" stroke="#000" stroke-width="1"/>
<rect x="1137" y="357" width="1" height="150" fill="#000"/>
<rect x="1135" y="411" width="5" height="51" fill="#000"/>
<rect x="1145" y="446" width="1" height="50" fill="#000"/>
<rect x="1143" y="460" width="5" height="2" fill="#000"/>
<rect x="1153" y="443" width="1" height="22" fill="#000"/>
<rect x="1151.5" y="455.5" width="4" height="5" fill="#fff" stroke="#000" stroke-width="1"/>
<rect x="1161" y="449" width="1" height="57" fill="#000"/>
<rect x="1159.5" y="450.5" width="4" height="6" fill="#fff" stroke="#000" stroke-width="1"/>
<rect x="1169" y="443" width="1" height="35" fill="#000"/>
<rect x="1167" y="452" width="5" height="15" fill="#000"/>
<rect x="1177" y="408" width="1" height="62" fill="#000"/>
<rect x="1175.5" y="418.5" width="4" height="48" fill="#fff" stroke="#000" stroke-width="1"/>
<rect x="1185" y="338" width="1" height="109" fill="#000"/>
<rect x="1183.5" y="350.5" width="4" height="68" fill="#fff" stroke="#000" stroke-width="1"/>
<rect x="1193" y="336" width="1" height="47" fill="#000"/>
<rect x="1191" y="350" width="5" height="33" fill="#000"/>
<rect x="1201" y="366" width="1" height="25" fill="#000"/>
<rect x="1199" y="381" width="5" height="6" fill="#000"/>
<rect x="1209" y="367" width="1" height="60" fill="#000"/>
<rect x="1207" y="386" width="5" height="18" fill="#000"/>
<rect x="1217" y="395" width="1" height="60" fill="#000"/>
<rect x="1215" y="403" width="5" height="45" fill="#000"/>
<rect x="1225" y="436" width="1" height="47" fill="#000"/>
<rect x="1223" y="447" width="5" height="11" fill="#000"/>
<rect x="1233" y="407" width="1" height="90" fill="#000"/>
<rect x="1231.5" y="436.5" width="4" height="20" fill="#fff" stroke="#000" stroke-width="1"/>
<rect x="1241" y="350" width="1" height="121" fill="#000"/>
<rect x="1239.5" y="356.5" width="4" height="80" fill="#fff" stroke="#000" stroke-width="1"/>
<rect x="1249" y="322" width="1" height="39" fill="#000"/>
<rect x="1247.5" y="335.5" width="4" height="22" fill="#fff" stroke="#000" stroke-width="1"/>
<rect x="1257" y="307" width="1" height="34" fill="#000"/>
<rect x="1255.5" y="319.5" width="4" height="17" fill="#fff" stroke="#000" stroke-width="1"/>
<rect x="1265" y="301" width="1" height="31" fill="#000"/>
<rect x="1263.5" y="315.5" width="4" height="5" fill="#fff" stroke="#000" stroke-width="1"/>
<rect x="1273" y="277" width="1" height="55" fill="#000"/>
<rect x="1271.5" y="281.5" width="4" height="34" fill="#fff" stroke="#000" stroke-width="1"/>
<rect x="1281" y="214" width="1" height="78" fill="#000"/>
<rect x="1279.5" y="220.5" width="4" height="62" fill="#fff" stroke="#000" stroke-width="1"/>
<rect x="1289" y="215" width="1" height="59" fill="#000"/>
<rect x="1287" y="220" width="5" height="49" fill="#000"/>
<rect x="1297" y="244" width="1" height="27" fill="#000"/>
<rect x="1295.5" y="246.5" width="4" height="21" fill="#fff" stroke="#000" stroke-width="1"/>
<rect x="1305" y="239" width="1" height="32" fill="#000"/>
<rect x="1303" y="247" width="5" height="11" fill="#000"/>
<rect x="1313" y="242" width="1" height="25" fill="#000"/>
<rect x="1311" y="257" width="5" height="2" fill="#000"/>
<rect x="1321" y="253" width="1" height="28" fill="#000"/>
<rect x="1319" y="259" width="5" height="4" fill="#000"/>
<rect x="1329" y="248" width="1" height="46" fill="#000"/>
<rect x="1327" y="261" width="5" height="9" fill="#000"/>
<rect x="1337" y="247" width="1" height="40" fill="#000"/>
<rect x="1335" y="268" width="5" height="4" fill="#000"/>
<rect x="1345" y="270" width="1" height="10" fill="#000"/>
<rect x="1343" y="270" width="5" height="6" fill="#000"/>
<rect x="1353" y="285" width="1" height="38" fill="#000"/>
<rect x="1351" y="290" width="5" height="25" fill="#000"/>
<rect x="1361" y="268" width="1" height="53" fill="#000"/>
<rect x="1359.5" y="279.5" width="4" height="35" fill="#fff" stroke="#000" stroke-width="1"/>
<rect x="1369" y="261" width="1" height="38" fill="#000"/>
<rect x="1367" y="279" width="5" height="11" fill="#000"/>
<rect x="1377" y="280" width="1" height="26" fill="#000"/>
<rect x="1375" y="289" width="5" height="3" fill="#000"/>
<rect x="1385" y="221" width="1" height="76" fill="#000"/>
<rect x="1383.5" y="228.5" width="4" height="63" fill="#fff" stroke="#000" stroke-width="1"/>
<rect x="1393" y="226" width="1" height="110" fill="#000"/>
<rect x="1391" y="229" width="5" height="105" fill="#000"/>
<rect x="1401" y="332" width="1" height="15" fill="#000"/>
<rect x="1399" y="333" width="5" height="6" fill="#000"/>
<rect x="1409" y="338" width="1" height="1" fill="#000"/>
<rect x="1407" y="338" width="5" height="1" fill="#000"/>
<rect x="1" y="656" width="1" height="6" fill="#c0c0c0"/>
<rect x="9" y="658" width="1" height="4" fill="#c0c0c0"/>
<rect x="41" y="659" width="1" height="3" fill="#c0c0c0"/>
<rect x="49" y="657" width="1" height="5" fill="#c0c0c0"/>
<rect x="57" y="656" width="1" height="6" fill="#c0c0c0"/>
<rect x="65" y="654" width="1" height="8" fill="#c0c0c0"/>
<rect x="73" y="652" width="1" height="10" fill="#c0c0c0"/>
<rect x="81" y="652" width="1" height="10" fill="#c0c0c0"/>
<rect x="89" y="656" width="1" height="6" fill="#c0c0c0"/>
<rect x="97" y="656" width="1" height="6" fill="#c0c0c0"/>
<rect x="105" y="659" width="1" height="3" fill="#c0c0c0"/>
<rect x="113" y="660" width="1" height="2" fill="#c0c0c0"/>
<rect x="129" y="660" width="1" height="2" fill="#c0c0c0"/>
<rect x="137" y="658" width="1" height="4" fill="#c0c0c0"/>
<rect x="145" y="658" width="1" height="4" fill="#c0c0c0"/>
<rect x="153" y="658" width="1" height="4" fill="#c0c0c0"/>
<rect x="161" y="658" width="1" height="4" fill="#c0c0c0"/>
<rect x="169" y="658" width="1" height="4" fill="#c0c0c0"/>
<rect x="177" y="658" width="1" height="4" fill="#c0c0c0"/>
<rect x="185" y="658" width="1" height="4" fill="#c0c0c0"/>
<rect x="193" y="661" width="1" height="7" fill="#c0c0c0"/>
<rect x="201" y="661" width="1" height="14" fill="#c0c0c0"/>
<rect x="209" y="661" width="1" height="20" fill="#c0c0c0"/>
<rect x="217" y="661" width="1" height="24" fill="#c0c0c0"/>
<rect x="225" y="661" width="1" height="31" fill="#c0c0c0"/>
<rect x="233" y="661" width="1" height="32" fill="#c0c0c0"/>
<rect x="241" y="661" width="1" height="37" fill="#c0c0c0"/>
<rect x="249" y="661" width="1" height="38" fill="#c0c0c0"/>
<rect x="257" y="661" width="1" height="39" fill="#c0c0c0"/>
<rect x="265" y="661" width="1" height="40" fill="#c0c0c0"/>
<rect x="273" y="661" width="1" height="43" fill="#c0c0c0"/>
<rect x="281" y="661" width="1" height="41" fill="#c0c0c0"/>
<rect x="289" y="661" width="1" height="39" fill="#c0c0c0"/>
<rect x="297" y="661" width="1" height="40" fill="#c0c0c0"/>
<rect x="305" y="661" width="1" height="41" fill="#c0c0c0"/>
<rect x="313" y="661" width="1" height="40" fill="#c0c0c0"/>
<rect x="321" y="661" width="1" height="34" fill="#c0c0c0"/>
<rect x="329" y="661" width="1" height="31" fill="#c0c0c0"/>
<rect x="337" y="661" width="1" height="33" fill="#c0c0c0"/>
<rect x="345" y="661" width="1" height="42" fill="#c0c0c0"/>
<rect x="353" y="661" width="1" height="47" fill="#c0c0c0"/>
<rect x="361" y="661" width="1" height="47" fill="#c0c0c0"/>
<rect x="369" y="661" width="1" height="49" fill="#c0c0c0"/>
<rect x="377" y="661" width="1" height="47" fill="#c0c0c0"/>
<rect x="385" y="661" width="1" height="44" fill="#c0c0c0"/>
<rect x="393" y="661" width="1" height="40" fill="#c0c0c0"/>
<rect x="401" y="661" width="1" height="36" fill="#c0c0c0"/>
<rect x="409" y="661" width="1" height="30" fill="#c0c0c0"/>
<rect x="417" y="661" width="1" height="24" fill="#c0c0c0"/>
<rect x="425" y="661" width="1" height="22" fill="#c0c0c0"/>
<rect x="433" y="661" width="1" height="22" fill="#c0c0c0"/>
<rect x="441" y="661" width="1" height="25" fill="#c0c0c0"/>
<rect x="449" y="661" width="1" height="30" fill="#c0c0c0"/>
<rect x="457" y="661" width="1" height="36" fill="#c0c0c0"/>
<rect x="465" y="661" width="1" height="40" fill="#c0c0c0"/>
<rect x="473" y="661" width="1" height="44" fill="#c0c0c0"/>
<rect x="481" y="661" width="1" height="47" fill="#c0c0c0"/>
<rect x="489" y="661" width="1" height="46" fill="#c0c0c0"/>
<rect x="497" y="661" width="1" height="40" fill="#c0c0c0"/>
<rect x="505" y="661" width="1" height="35" fill="#c0c0c0"/>
<rect x="513" y="661" width="1" height="33" fill="#c0c0c0"/>
<rect x="521" y="661" width="1" height="29" fill="#c0c0c0"/>
<rect x="529" y="661" width="1" height="27" fill="#c0c0c0"/>
<rect x="537" y="661" width="1" height="30" fill="#c0c0c0"/>
<rect x="545" y="661" width="1" height="28" fill="#c0c0c0"/>
<rect x="553" y="661" width="1" height="28" fill="#c0c0c0"/>
<rect x="561" y="661" width="1" height="26" fill="#c0c0c0"/>
<rect x="569" y="661" width="1" height="23" fill="#c0c0c0"/>
<rect x="577" y="661" width="1" height="24" fill="#c0c0c0"/>
<rect x="585" y="661" width="1" height="27" fill="#c0c0c0"/>
<rect x="593" y="661" width="1" height="29" fill="#c0c0c0"/>
<rect x="601" y="661" width="1" height="32" fill="#c0c0c0"/>
<rect x="609" y="661" width="1" height="34" fill="#c0c0c0"/>
<rect x="617" y="661" width="1" height="43" fill="#c0c0c0"/>
<rect x="625" y="661" width="1" height="54" fill="#c0c0c0"/>
<rect x="633" y="661" width="1" height="66" fill="#c0c0c0"/>
<rect x="641" y="661" width="1" height="75" fill="#c0c0c0"/>
<rect x="649" y="661" width="1" height="81" fill="#c0c0c0"/>
<rect x="657" y="661" width="1" height="83" fill="#c0c0c0"/>
<rect x="665" y="661" width="1" height="78" fill="#c0c0c0"/>
<rect x="673" y="661" width="1" height="70" fill="#c0c0c0"/>
<rect x="681" y="661" width="1" height="66" fill="#c0c0c0"/>
<rect x="689" y="661" width="1" height="65" fill="#c0c0c0"/>
<rect x="697" y="661" width="1" height="70" fill="#c0c0c0"/>
<rect x="705" y="661" width="1" height="74" fill="#c0c0c0"/>
<rect x="713" y="661" width="1" height="74" fill="#c0c0c0"/>
<rect x="721" y="661" width="1" height="71" fill="#c0c0c0"/>
<rect x="729" y="661" width="1" height="65" fill="#c0c0c0"/>
<rect x="737" y="661" width="1" height="53" fill="#c0c0c0"/>
<rect x="745" y="661" width="1" height="45" fill="#c0c0c0"/>
<rect x="753" y="661" width="1" height="37" fill="#c0c0c0"/>
<rect x="761" y="661" width="1" height="29" fill="#c0c0c0"/>
<rect x="769" y="661" width="1" height="19" fill="#c0c0c0"/>
<rect x="777" y="661" width="1" height="12" fill="#c0c0c0"/>
<rect x="785" y="657" width="1" height="5" fill="#c0c0c0"/>
<rect x="793" y="646" width="1" height="16" fill="#c0c0c0"/>
<rect x="801" y="637" width="1" height="25" fill="#c0c0c0"/>
<rect x="809" y="630" width="1" height="32" fill="#c0c0c0"/>
<rect x="817" y="628" width="1" height="34" fill="#c0c0c0"/>
<rect x="825" y="628" width="1" height="34" fill="#c0c0c0"/>
<rect x="833" y="625" width="1" height="37" fill="#c0c0c0"/>
<rect x="841" y="622" width="1" height="40" fill="#c0c0c0"/>
<rect x="849" y="619" width="1" height="43" fill="#c0c0c0"/>
<rect x="857" y="616" width="1" height="46" fill="#c0c0c0"/>
<rect x="865" y="612" width="1" height="50" fill="#c0c0c0"/>
<rect x="873" y="609" width="1" height="53" fill="#c0c0c0"/>
<rect x="881" y="610" width="1" height="52" fill="#c0c0c0"/>
<rect x="889" y="609" width="1" height="53" fill="#c0c0c0"/>
<rect x="897" y="611" width="1" height="51" fill="#c0c0c0"/>
<rect x="905" y="613" width="1" height="49" fill="#c0c0c0"/>
<rect x="913" y="615" width="1" height="47" fill="#c0c0c0"/>
<rect x="921" y="620" width="1" height="42" fill="#c0c0c0"/>
<rect x="929" y="625" width="1" height="37" fill="#c0c0c0"/>
<rect x="937" y="640" width="1" height="22" fill="#c0c0c0"/>
<rect x="945" y="655" width="1" height="7" fill="#c0c0c0"/>
<rect x="953" y="661" width="1" height="3" fill="#c0c0c0"/>
<rect x="961" y="661" width="1" height="8" fill="#c0c0c0"/>
<rect x="969" y="661" width="1" height="10" fill="#c0c0c0"/>
<rect x="977" y="661" width="1" height="14" fill="#c0c0c0"/>
<rect x="985" y="661" width="1" height="15" fill="#c0c0c0"/>
<rect x="993" y="661" width="1" height="19" fill="#c0c0c0"/>
<rect x="1001" y="661" width="1" height="19" fill="#c0c0c0"/>
<rect x="1009" y="661" width="1" height="17" fill="#c0c0c0"/>
<rect x="1017" y="661" width="1" height="13" fill="#c0c0c0"/>
<rect x="1025" y="661" width="1" height="13" fill="#c0c0c0"/>
<rect x="1033" y="661" width="1" height="26" fill="#c0c0c0"/>
<rect x="1041" y="661" width="1" height="42" fill="#c0c0c0"/>
<rect x="1049" y="661" width="1" height="52" fill="#c0c0c0"/>
<rect x="1057" y="661" width="1" height="68" fill="#c0c0c0"/>
<rect x="1065" y="661" width="1" height="79" fill="#c0c0c0"/>
<rect x="1073" y="661" width="1" height="77" fill="#c0c0c0"/>
<rect x="1081" y="661" width="1" height="72" fill="#c0c0c0"/>
<rect x="1089" y="661" width="1" height="61" fill="#c0c0c0"/>
<rect x="1097" y="661" width="1" height="50" fill="#c0c0c0"/>
<rect x="1105" y="661" width="1" height="40" fill="#c0c0c0"/>
<rect x="1113" y="661" width="1" height="37" fill="#c0c0c0"/>
<rect x="1121" y="661" width="1" height="35" fill="#c0c0c0"/>
<rect x="1129" y="661" width="1" height="32" fill="#c0c0c0"/>
<rect x="1137" y="661" width="1" height="36" fill="#c0c0c0"/>
<rect x="1145" y="661" width="1" height="38" fill="#c0c0c0"/>
<rect x="1153" y="661" width="1" height="39" fill="#c0c0c0"/>
<rect x="1161" y="661" width="1" height="38" fill="#c0c0c0"/>
<rect x="1169" y="661" width="1" height="40" fill="#c0c0c0"/>
<rect x="1177" y="661" width="1" height="34" fill="#c0c0c0"/>
<rect x="1185" y="661" width="1" height="22" fill="#c0c0c0"/>
<rect x="1193" y="661" width="1" height="16" fill="#c0c0c0"/>
<rect x="1201" y="661" width="1" height="11" fill="#c0c0c0"/>
<rect x="1209" y="661" width="1" height="10" fill="#c0c0c0"/>
<rect x="1217" y="661" width="1" height="13" fill="#c0c0c0"/>
<rect x="1225" y="661" width="1" height="17" fill="#c0c0c0"/>
<rect x="1233" y="661" width="1" height="18" fill="#c0c0c0"/>
<rect x="1241" y="661" width="1" height="9" fill="#c0c0c0"/>
<rect x="1249" y="659" width="1" height="3" fill="#c0c0c0"/>
<rect x="1257" y="650" width="1" height="12" fill="#c0c0c0"/>
<rect x="1265" y="642" width="1" height="20" fill="#c0c0c0"/>
<rect x="1273" y="632" width="1" height="30" fill="#c0c0c0"/>
<rect x="1281" y="618" width="1" height="44" fill="#c0c0c0"/>
<rect x="1289" y="613" width="1" height="49" fill="#c0c0c0"/>
<rect x="1297" y="607" width="1" height="55" fill="#c0c0c0"/>
<rect x="1305" y="604" width="1" height="58" fill="#c0c0c0"/>
<rect x="1313" y="602" width="1" height="60" fill="#c0c0c0"/>
<rect x="1321" y="602" width="1" height="60" fill="#c0c0c0"/>
<rect x="1329" y="604" width="1" height="58" fill="#c0c0c0"/>
<rect x="1337" y="606" width="1" height="56" fill="#c0c0c0"/>
<rect x="1345" y="609" width="1" height="53" fill="#c0c0c0"/>
<rect x="1353" y="616" width="1" height="46" fill="#c0c0c0"/>
<rect x="1361" y="618" width="1" height="44" fill="#c0c0c0"/>
<rect x="1369" y="621" width="1" height="41" fill="#c0c0c0"/>
<rect x="1377" y="625" width="1" height="37" fill="#c0c0c0"/>
<rect x="1385" y="620" width="1" height="42" fill="#c0c0c0"/>
<rect x="1393" y="630" width="1" height="32" fill="#c0c0c0"/>
<rect x="1401" y="638" width="1" height="24" fill="#c0c0c0"/>
<rect x="1409" y="644" width="1" height="18" fill="#c0c0c0"/>
<polyline points="0.0,649.5 25.0,653.7 40.0,656.2 57.5,657.5 82.5,657.0 100.0,655.5 125.0,655.5 135.0,657.0 160.0,658.2 195.0,658.7 207.5,662.0 220.0,667.0 235.0,673.7 250.0,682.5 262.5,689.5 275.0,695.0 295.0,699.2 322.5,700.0 335.0,698.2 350.0,699.0 369.5,700.3 377.5,701.0 385.5,701.4 393.5,702.0 401.5,702.5 409.5,702.1 417.5,700.2 425.5,697.5 433.5,694.7 441.5,692.0 449.5,690.2 457.5,689.3 465.5,689.3 473.5,690.2 481.5,692.2 489.5,694.5 497.5,696.6 505.5,698.1 513.5,699.0 521.5,698.9 529.5,697.9 537.5,696.8 545.5,695.1 553.5,692.9 561.5,690.7 569.5,688.8 577.5,687.5 585.5,686.9 593.5,686.9 601.5,687.4 609.5,687.9 617.5,689.5 625.5,692.4 633.5,696.8 641.5,702.6 649.5,709.0 657.5,715.2 665.5,720.6 673.5,724.8 681.5,728.3 689.5,730.8 697.5,732.5 705.5,733.5 713.5,733.4 721.5,732.2 729.5,730.3 737.5,727.5 745.5,724.7 753.5,721.6 761.5,717.7 769.5,712.1 777.5,705.1 785.5,696.5 793.5,687.1 801.5,677.3 809.5,668.0 817.5,659.4 825.5,651.8 833.5,644.6 841.5,638.2 849.5,632.3 857.5,627.8 865.5,624.0 873.5,621.0 881.5,618.8 889.5,616.7 897.5,614.8 905.5,613.5 913.5,612.7 921.5,612.8 929.5,613.8 937.5,616.9 945.5,622.0 953.5,627.8 961.5,634.4 969.5,641.0 977.5,647.7 985.5,654.4 993.5,661.0 1001.5,667.0 1009.5,671.1 1017.5,673.1 1025.5,674.3 1033.5,676.3 1041.5,679.8 1049.5,684.1 1057.5,689.9 1065.5,696.6 1073.5,703.0 1081.5,709.1 1089.5,714.5 1097.5,718.6 1105.5,720.2 1113.5,719.6 1121.5,717.7 1129.5,713.7 1137.5,708.9 1145.5,704.5 1153.5,700.8 1161.5,698.3 1169.5,697.1 1177.5,696.5 1185.5,694.9 1193.5,692.8 1201.5,690.5 1209.5,687.6 1217.5,684.9 1225.5,682.5 1233.5,680.2 1241.5,676.8 1249.5,672.9 1257.5,669.3 1265.5,665.5 1273.5,661.1 1281.5,655.4 1289.5,648.6 1297.5,640.7 1305.5,632.5 1313.5,625.1 1321.5,618.8 1329.5,613.7 1337.5,609.7 1345.5,607.1 1353.5,606.8 1361.5,607.4 1369.5,609.0 1377.5,611.3 1385.5,613.3 1393.5,616.4 1401.5,620.2 1409.5,624.5" fill="none" stroke="#ff0000" stroke-width="1" stroke-dasharray="3,3" />
<line x1="0" y1="787.5" x2="1652" y2="787.5" stroke="#c0c0c0" stroke-width="1" stroke-dasharray="3,3"/>
<line x1="0" y1="838.5" x2="1652" y2="838.5" stroke="#c0c0c0" stroke-width="1" stroke-dasharray="3,3"/>
<line x1="0" y1="899.5" x2="1652" y2="899.5" stroke="#c0c0c0" stroke-width="1" stroke-dasharray="3,3"/>
<polyline points="1.5,847.0 9.5,847.0 17.5,852.0 25.5,840.0 33.5,838.0 41.5,827.0 49.5,829.2 57.5,832.5 65.5,824.0 73.5,825.0 81.5,828.0 89.5,846.2 97.5,842.0 105.5,844.5 113.5,849.5 121.5,841.2 129.5,833.0 137.5,831.2 145.5,830.2 153.5,830.2 161.5,838.0 169.5,836.2 177.5,838.0 185.5,838.2 193.5,873.5 201.5,872.0 209.5,876.2 217.5,869.5 225.5,879.2 233.5,860.2 241.5,870.2 249.5,859.2 257.5,862.5 265.5,866.2 273.5,868.5 281.5,853.8 289.5,848.2 297.5,862.5 305.5,862.5 313.5,851.2 321.5,843.2 329.5,844.2 337.5,861.2 345.5,871.8 353.5,868.2 361.5,858.2 369.5,861.5 377.5,853.8 385.5,850.0 393.5,847.5 401.5,844.5 409.5,839.2 417.5,837.2 425.5,841.8 433.5,848.0 441.5,858.1 449.5,865.1 457.5,869.7 465.5,869.3 473.5,870.7 481.5,873.2 489.5,857.7 497.5,844.1 505.5,842.2 513.5,847.2 521.5,844.2 529.5,847.5 537.5,859.5 545.5,847.6 553.5,850.9 561.5,846.3 569.5,842.6 577.5,851.4 585.5,860.1 593.5,859.1 601.5,861.7 609.5,864.2 617.5,878.3 625.5,884.6 633.5,890.0 641.5,890.0 649.5,890.2 657.5,877.9 665.5,860.7 673.5,848.7 681.5,854.8 689.5,861.9 697.5,871.3 705.5,874.1 713.5,863.9 721.5,856.5 729.5,851.7 737.5,834.1 745.5,840.8 753.5,836.2 761.5,834.7 769.5,827.0 777.5,829.1 785.5,812.9 793.5,815.5 801.5,814.9 809.5,814.1 817.5,824.5 825.5,827.6 833.5,819.9 841.5,818.2 849.5,817.1 857.5,813.3 865.5,810.6 873.5,810.2 881.5,818.4 889.5,814.1 897.5,820.7 905.5,821.2 913.5,819.3 921.5,832.6 929.5,834.6 937.5,861.2 945.5,865.5 953.5,856.1 961.5,851.6 969.5,847.5 977.5,851.1 985.5,847.9 993.5,854.5 1001.5,846.8 1009.5,841.0 1017.5,833.6 1025.5,844.0 1033.5,867.1 1041.5,875.1 1049.5,870.7 1057.5,878.9 1065.5,879.0 1073.5,856.2 1081.5,850.1 1089.5,838.5 1097.5,836.9 1105.5,834.2 1113.5,844.2 1121.5,844.8 1129.5,844.2 1137.5,854.0 1145.5,854.0 1153.5,852.5 1161.5,851.0 1169.5,854.5 1177.5,840.8 1185.5,825.7 1193.5,833.7 1201.5,834.7 1209.5,838.9 1217.5,848.5 1225.5,850.7 1233.5,845.1 1241.5,827.3 1249.5,823.6 1257.5,820.6 1265.5,819.9 1273.5,813.9 1281.5,804.8 1289.5,818.2 1297.5,814.8 1305.5,817.7 1313.5,818.1 1321.5,819.1 1329.5,821.5 1337.5,822.2 1345.5,823.7 1353.5,836.3 1361.5,827.3 1369.5,830.4 1377.5,831.2 1385.5,816.3 1393.5,843.8 1401.5,844.9 1409.5,844.8" fill="none" stroke="#1e90ff" stroke-width="1" />
<rect x="1414" y="25" width="9" height="1" fill="#c0c0c0"/>
<rect x="1415" y="26" width="7" height="1" fill="#c0c0c0"/>
<rect x="1416" y="27" width="5" height="1" fill="#c0c0c0"/>
<rect x="1417" y="28" width="3" height="1" fill="#c0c0c0"/>
<rect x="1418" y="29" width="1" height="1" fill="#c0c0c0"/>
<rect x="1299" y="323" width="165" height="7" fill="#00ff00"/>
<rect x="1653" y="28" width="2" height="1" fill="#000"/>
<text x="1658" y="32" font-size="9.9" fill="#000" text-anchor="start" font-weight="normal" textLength="33" lengthAdjust="spacingAndGlyphs" >35600.0</text>
<rect x="1653" y="61" width="2" height="1" fill="#000"/>
<text x="1658" y="65" font-size="9.9" fill="#000" text-anchor="start" font-weight="normal" textLength="33" lengthAdjust="spacingAndGlyphs" >35468.0</text>
<rect x="1653" y="94" width="2" height="1" fill="#000"/>
<text x="1658" y="98" font-size="9.9" fill="#000" text-anchor="start" font-weight="normal" textLength="33" lengthAdjust="spacingAndGlyphs" >35336.0</text>
<rect x="1653" y="127" width="2" height="1" fill="#000"/>
<text x="1658" y="131" font-size="9.9" fill="#000" text-anchor="start" font-weight="normal" textLength="33" lengthAdjust="spacingAndGlyphs" >35204.0</text>
<rect x="1653" y="160" width="2" height="1" fill="#000"/>
<text x="1658" y="164" font-size="9.9" fill="#000" text-anchor="start" font-weight="normal" textLength="33" lengthAdjust="spacingAndGlyphs" >35072.0</text>
<rect x="1653" y="193" width="2" height="1" fill="#000"/>
<text x="1658" y="197" font-size="9.9" fill="#000" text-anchor="start" font-weight="normal" textLength="33" lengthAdjust="spacingAndGlyphs" >34936.0</text>
<rect x="1653" y="226" width="2" height="1" fill="#000"/>
<text x="1658" y="230" font-size="9.9" fill="#000" text-anchor="start" font-weight="normal" textLength="33" lengthAdjust="spacingAndGlyphs" >34804.0</text>
<rect x="1653" y="259" width="2" height="1" fill="#000"/>
<text x="1658" y="263" font-size="9.9" fill="#000" text-anchor="start" font-weight="normal" textLength="33" lengthAdjust="spacingAndGlyphs" >34672.0</text>
<rect x="1653" y="292" width="2" height="1" fill="#000"/>
<text x="1658" y="296" font-size="9.9" fill="#000" text-anchor="start" font-weight="normal" textLength="33" lengthAdjust="spacingAndGlyphs" >34540.0</text>
<rect x="1653" y="324" width="2" height="1" fill="#000"/>
<text x="1658" y="328" font-size="9.9" fill="#000" text-anchor="start" font-weight="normal" textLength="33" lengthAdjust="spacingAndGlyphs" >34408.0</text>
<rect x="1653" y="357" width="2" height="1" fill="#000"/>
<text x="1658" y="361" font-size="9.9" fill="#000" text-anchor="start" font-weight="normal" textLength="33" lengthAdjust="spacingAndGlyphs" >34276.0</text>
<rect x="1653" y="390" width="2" height="1" fill="#000"/>
<text x="1658" y="394" font-size="9.9" fill="#000" text-anchor="start" font-weight="normal" textLength="33" lengthAdjust="spacingAndGlyphs" >34140.0</text>
<rect x="1653" y="423" width="2" height="1" fill="#000"/>
<text x="1658" y="427" font-size="9.9" fill="#000" text-anchor="start" font-weight="normal" textLength="33" lengthAdjust="spacingAndGlyphs" >34008.0</text>
<rect x="1653" y="456" width="2" height="1" fill="#000"/>
<text x="1658" y="460" font-size="9.9" fill="#000" text-anchor="start" font-weight="normal" textLength="33" lengthAdjust="spacingAndGlyphs" >33876.0</text>
<rect x="1653" y="489" width="2" height="1" fill="#000"/>
<text x="1658" y="493" font-size="9.9" fill="#000" text-anchor="start" font-weight="normal" textLength="33" lengthAdjust="spacingAndGlyphs" >33744.0</text>
<rect x="1653" y="522" width="2" height="1" fill="#000"/>
<text x="1658" y="526" font-size="9.9" fill="#000" text-anchor="start" font-weight="normal" textLength="33" lengthAdjust="spacingAndGlyphs" >33612.0</text>
<rect x="1653" y="555" width="2" height="1" fill="#000"/>
<text x="1658" y="559" font-size="9.9" fill="#000" text-anchor="start" font-weight="normal" textLength="33" lengthAdjust="spacingAndGlyphs" >33480.0</text>
<rect x="1653" y="588" width="2" height="1" fill="#000"/>
<text x="1658" y="592" font-size="9.9" fill="#000" text-anchor="start" font-weight="normal" textLength="33" lengthAdjust="spacingAndGlyphs" >33348.0</text>
<rect x="1653" y="595" width="2" height="1" fill="#000"/>
<rect x="1653" y="661" width="2" height="1" fill="#000"/>
<rect x="1653" y="748" width="2" height="1" fill="#000"/>
<text x="1657" y="603" font-size="9.9" fill="#000" text-anchor="start" font-weight="normal" textLength="27" lengthAdjust="spacingAndGlyphs" >183.31</text>
<text x="1657" y="665" font-size="9.9" fill="#000" text-anchor="start" font-weight="normal" textLength="18" lengthAdjust="spacingAndGlyphs" >0.00</text>
<text x="1656" y="746" font-size="9.9" fill="#000" text-anchor="start" font-weight="normal" textLength="31" lengthAdjust="spacingAndGlyphs" >-244.05</text>
<rect x="1653" y="753" width="2" height="1" fill="#000"/>
<text x="1657" y="762" font-size="9.9" fill="#000" text-anchor="start" font-weight="normal" >100</text>
<rect x="1653" y="787" width="2" height="1" fill="#000"/>
<text x="1657" y="791" font-size="9.9" fill="#000" text-anchor="start" font-weight="normal" >80</text>
<rect x="1653" y="838" width="2" height="1" fill="#000"/>
<text x="1657" y="842" font-size="9.9" fill="#000" text-anchor="start" font-weight="normal" >50</text>
<rect x="1653" y="899" width="2" height="1" fill="#000"/>
<text x="1657" y="903" font-size="9.9" fill="#000" text-anchor="start" font-weight="normal" >15</text>
<rect x="1653" y="925" width="2" height="1" fill="#000"/>
<text x="1657" y="922" font-size="9.9" fill="#000" text-anchor="start" font-weight="normal" >0</text>
<rect x="1654" y="271" width="41" height="11" fill="#ff0000"/>
<text x="1658" y="280" font-size="9.9" fill="#fff" text-anchor="start" font-weight="normal" textLength="33" lengthAdjust="spacingAndGlyphs" >34595.9</text>
<rect x="1647.5" y="275.5" width="4" height="4" fill="#fff" stroke="#ff0000" stroke-width="1"/>
<rect x="1654" y="296" width="41" height="11" fill="#ff0000"/>
<text x="1658" y="305" font-size="9.9" fill="#fff" text-anchor="start" font-weight="normal" textLength="33" lengthAdjust="spacingAndGlyphs" >34495.6</text>
<rect x="1647.5" y="300.5" width="4" height="4" fill="#fff" stroke="#ff0000" stroke-width="1"/>
<rect x="1654" y="319" width="41" height="11" fill="#32cd32"/>
<text x="1658" y="328" font-size="9.9" fill="#fff" text-anchor="start" font-weight="normal" textLength="33" lengthAdjust="spacingAndGlyphs" >34403.3</text>
<rect x="1647.5" y="323.5" width="4" height="4" fill="#fff" stroke="#32cd32" stroke-width="1"/>
<rect x="1654" y="332" width="41" height="11" fill="#000000"/>
<text x="1658" y="341" font-size="9.9" fill="#fff" text-anchor="start" font-weight="normal" textLength="33" lengthAdjust="spacingAndGlyphs" >34351.0</text>
<rect x="1654" y="352" width="41" height="11" fill="#0000ff"/>
<text x="1658" y="361" font-size="9.9" fill="#fff" text-anchor="start" font-weight="normal" textLength="33" lengthAdjust="spacingAndGlyphs" >34270.9</text>
<rect x="1647.5" y="356.5" width="4" height="4" fill="#fff" stroke="#0000ff" stroke-width="1"/>
<rect x="1654" y="373" width="41" height="11" fill="#0000ff"/>
<text x="1658" y="382" font-size="9.9" fill="#fff" text-anchor="start" font-weight="normal" textLength="33" lengthAdjust="spacingAndGlyphs" >34186.6</text>
<rect x="1647.5" y="377.5" width="4" height="4" fill="#fff" stroke="#0000ff" stroke-width="1"/>
<text x="-7" y="938" font-size="9.9" fill="#000" text-anchor="start" font-weight="normal" textLength="47.6" lengthAdjust="spacingAndGlyphs" >1 Sep 2021</text>
<rect x="57" y="926" width="1" height="3" fill="#000"/>
<text x="57" y="938" font-size="9.9" fill="#000" text-anchor="start" font-weight="normal" textLength="50.2" lengthAdjust="spacingAndGlyphs" >2 Sep 20:00</text>
<rect x="121" y="926" width="1" height="3" fill="#000"/>
<text x="121" y="938" font-size="9.9" fill="#000" text-anchor="start" font-weight="normal" textLength="50.2" lengthAdjust="spacingAndGlyphs" >6 Sep 00:00</text>
<rect x="185" y="926" width="1" height="3" fill="#000"/>
<text x="185" y="938" font-size="9.9" fill="#000" text-anchor="start" font-weight="normal" textLength="50.2" lengthAdjust="spacingAndGlyphs" >7 Sep 08:00</text>
<rect x="249" y="926" width="1" height="3" fill="#000"/>
<text x="249" y="938" font-size="9.9" fill="#000" text-anchor="start" font-weight="normal" textLength="50.2" lengthAdjust="spacingAndGlyphs" >8 Sep 16:00</text>
<rect x="313" y="926" width="1" height="3" fill="#000"/>
<text x="313" y="938" font-size="9.9" fill="#000" text-anchor="start" font-weight="normal" textLength="55.4" lengthAdjust="spacingAndGlyphs" >10 Sep 00:00</text>
<rect x="377" y="926" width="1" height="3" fill="#000"/>
<text x="377" y="938" font-size="9.9" fill="#000" text-anchor="start" font-weight="normal" textLength="55.4" lengthAdjust="spacingAndGlyphs" >13 Sep 04:00</text>
<rect x="441" y="926" width="1" height="3" fill="#000"/>
<text x="441" y="938" font-size="9.9" fill="#000" text-anchor="start" font-weight="normal" textLength="55.4" lengthAdjust="spacingAndGlyphs" >14 Sep 12:00</text>
<rect x="505" y="926" width="1" height="3" fill="#000"/>
<text x="505" y="938" font-size="9.9" fill="#000" text-anchor="start" font-weight="normal" textLength="55.4" lengthAdjust="spacingAndGlyphs" >15 Sep 20:00</text>
<rect x="569" y="926" width="1" height="3" fill="#000"/>
<text x="569" y="938" font-size="9.9" fill="#000" text-anchor="start" font-weight="normal" textLength="55.4" lengthAdjust="spacingAndGlyphs" >17 Sep 04:00</text>
<rect x="633" y="926" width="1" height="3" fill="#000"/>
<text x="633" y="938" font-size="9.9" fill="#000" text-anchor="start" font-weight="normal" textLength="55.4" lengthAdjust="spacingAndGlyphs" >20 Sep 08:00</text>
<rect x="697" y="926" width="1" height="3" fill="#000"/>
<text x="697" y="938" font-size="9.9" fill="#000" text-anchor="start" font-weight="normal" textLength="55.4" lengthAdjust="spacingAndGlyphs" >21 Sep 16:00</text>
<rect x="761" y="926" width="1" height="3" fill="#000"/>
<text x="761" y="938" font-size="9.9" fill="#000" text-anchor="start" font-weight="normal" textLength="55.4" lengthAdjust="spacingAndGlyphs" >23 Sep 00:00</text>
<rect x="825" y="926" width="1" height="3" fill="#000"/>
<text x="825" y="938" font-size="9.9" fill="#000" text-anchor="start" font-weight="normal" textLength="55.4" lengthAdjust="spacingAndGlyphs" >24 Sep 08:00</text>
<rect x="889" y="926" width="1" height="3" fill="#000"/>
<text x="889" y="938" font-size="9.9" fill="#000" text-anchor="start" font-weight="normal" textLength="55.4" lengthAdjust="spacingAndGlyphs" >27 Sep 12:00</text>
<rect x="953" y="926" width="1" height="3" fill="#000"/>
<text x="953" y="938" font-size="9.9" fill="#000" text-anchor="start" font-weight="normal" textLength="55.4" lengthAdjust="spacingAndGlyphs" >28 Sep 20:00</text>
<rect x="1017" y="926" width="1" height="3" fill="#000"/>
<text x="1017" y="938" font-size="9.9" fill="#000" text-anchor="start" font-weight="normal" textLength="55.4" lengthAdjust="spacingAndGlyphs" >30 Sep 04:00</text>
<rect x="1081" y="926" width="1" height="3" fill="#000"/>
<text x="1081" y="938" font-size="9.9" fill="#000" text-anchor="start" font-weight="normal" textLength="48.1" lengthAdjust="spacingAndGlyphs" >1 Oct 12:00</text>
<rect x="1145" y="926" width="1" height="3" fill="#000"/>
<text x="1145" y="938" font-size="9.9" fill="#000" text-anchor="start" font-weight="normal" textLength="48.1" lengthAdjust="spacingAndGlyphs" >4 Oct 16:00</text>
<rect x="1209" y="926" width="1" height="3" fill="#000"/>
<text x="1209" y="938" font-size="9.9" fill="#000" text-anchor="start" font-weight="normal" textLength="48.1" lengthAdjust="spacingAndGlyphs" >6 Oct 00:00</text>
<rect x="1273" y="926" width="1" height="3" fill="#000"/>
<text x="1273" y="938" font-size="9.9" fill="#000" text-anchor="start" font-weight="normal" textLength="48.1" lengthAdjust="spacingAndGlyphs" >7 Oct 08:00</text>
<rect x="1337" y="926" width="1" height="3" fill="#000"/>
<text x="1337" y="938" font-size="9.9" fill="#000" text-anchor="start" font-weight="normal" textLength="48.1" lengthAdjust="spacingAndGlyphs" >8 Oct 16:00</text>
<rect x="1401" y="926" width="1" height="3" fill="#000"/>
<text x="1401" y="938" font-size="9.9" fill="#000" text-anchor="start" font-weight="normal" textLength="52.6" lengthAdjust="spacingAndGlyphs" >11 Oct 20:00</text>
<text x="-2" y="605.5" font-size="9.9" fill="#000" text-anchor="start" font-weight="normal" textLength="122" lengthAdjust="spacingAndGlyphs" >MACD(12,26,9) 46.99 102.38</text>
<text x="-2" y="763.7" font-size="9.9" fill="#000" text-anchor="start" font-weight="normal" textLength="67" lengthAdjust="spacingAndGlyphs" >RSI(14) 46.5392</text>
<g shape-rendering="auto">
<line x1="1388.5" y1="229.0" x2="1408.8" y2="356.6" stroke="#ff0000" stroke-width="3.7"/>
<polygon points="1410.5,367.5 1403.8,357.4 1413.7,355.9" fill="#ff0000"/>
<rect x="1385" y="228" width="6" height="9" fill="#ff0000"/>
<line x1="1331.0" y1="598.0" x2="1431.1" y2="647.2" stroke="#ff0000" stroke-width="3.3"/>
<polygon points="1441.0,652.0 1429.1,651.2 1433.1,643.1" fill="#ff0000"/>
<line x1="1302.8" y1="805.3" x2="1396.3" y2="840.8" stroke="#ff0000" stroke-width="3.3"/>
<polygon points="1406.6,844.7 1394.7,845.0 1397.9,836.6" fill="#ff0000"/>
</g>
<g shape-rendering="crispEdges">
<polygon points="0,31 3,34 0,34" fill="#000"/>
<text x="8" y="36" font-size="9.9" fill="#000" text-anchor="start" font-weight="normal" textLength="186" lengthAdjust="spacingAndGlyphs" xml:space="preserve">DJ30-,H4&#160;&#160;34351.0 34351.0 34351.0 34351.0</text>
<rect x="0" y="43" width="216" height="60" fill="#fff"/>
<rect x="0" y="44" width="47" height="25" fill="url(#gbtn)"/>
<rect x="163" y="44" width="52" height="25" fill="url(#gbtn)"/>
<rect x="0" y="68" width="105" height="33" fill="url(#gprice)"/>
<rect x="107" y="68" width="108" height="33" fill="url(#gprice)"/>
<rect x="0" y="68" width="44" height="1" fill="#f08080"/>
<rect x="167" y="68" width="44" height="1" fill="#f08080"/>
<rect x="50.5" y="44.5" width="110" height="21" fill="#fff" stroke="#a0a0a8"/>
<rect x="51.5" y="45.5" width="19" height="19" fill="url(#gspin)" stroke="#c8c8c8"/>
<rect x="140.5" y="45.5" width="19" height="19" fill="url(#gspin)" stroke="#c8c8c8"/>
<polygon points="58,53 63,53 60.5,56" fill="#4a62c8" shape-rendering="auto"/>
<polygon points="147,56 152,56 149.5,53" fill="#4a62c8" shape-rendering="auto"/>
<text x="136" y="59" font-size="12.3" fill="#000" text-anchor="end" font-weight="normal" >1.00</text>
<text x="8" y="59.3" font-size="11" fill="#fff" text-anchor="start" font-weight="normal" textLength="26" lengthAdjust="spacingAndGlyphs" >SELL</text>
<text x="176" y="59.3" font-size="11" fill="#fff" text-anchor="start" font-weight="normal" textLength="23" lengthAdjust="spacingAndGlyphs" >BUY</text>
<text x="12.5" y="95.5" font-size="11.2" fill="#fff" text-anchor="start" font-weight="bold" textLength="33.5" lengthAdjust="spacingAndGlyphs" >34349</text>
<text x="122.5" y="95.5" font-size="11.2" fill="#fff" text-anchor="start" font-weight="bold" textLength="33.5" lengthAdjust="spacingAndGlyphs" >34361</text>
<text x="50.5" y="95.5" font-size="34" fill="#fff" text-anchor="start" font-weight="normal" >.</text>
<text x="59" y="95.5" font-size="34" fill="#fff" text-anchor="start" font-weight="normal" textLength="14" lengthAdjust="spacingAndGlyphs" >5</text>
<text x="161" y="95.5" font-size="34" fill="#fff" text-anchor="start" font-weight="normal" >.</text>
<text x="170.5" y="95.5" font-size="34" fill="#fff" text-anchor="start" font-weight="normal" textLength="14" lengthAdjust="spacingAndGlyphs" >5</text>
</g>
<g shape-rendering="geometricPrecision">
<circle cx="-2.4" cy="8.5" r="4.2" fill="#cfe4f8" stroke="#3a78c8" stroke-width="1.3"/>
<line x1="0.3" y1="11.8" x2="5.3" y2="16.8" stroke="#c8a030" stroke-width="2.4"/>
<rect x="13" y="0" width="1" height="18" fill="#a0a0a0"/>
<rect x="14" y="0" width="1" height="18" fill="#ffffff"/>
<path d="M23.5,0.5 h7 l3.5,3.5 v9 h-10.5 z" fill="#fff" stroke="#686868" stroke-width="1"/>
<path d="M25.5,3 h3 M25.5,5.5 h5 M25.5,8 h5" stroke="#808080" stroke-width="1"/>
<path d="M31.5,6.5 h3.5 v3.8 h3.8 v3.5 h-3.8 v3.8 h-3.5 v-3.8 h-3.8 v-3.5 h3.8 z" fill="#22c022" stroke="#108810" stroke-width="0.8"/>
<text x="42" y="11.2" font-size="12" fill="#000" text-anchor="start" font-weight="normal" font-family="Liberation Sans, Noto Sans CJK SC, sans-serif" textLength="36" lengthAdjust="spacingAndGlyphs" >新订单</text>
<path d="M90.5,9.5 L97,1.5 L106,7 L100,15.5 Z" fill="#e8b830" stroke="#a87810" stroke-width="1"/>
<path d="M92,10 L98,3 L104.5,7.2 L99.3,14 Z" fill="#f8dc70"/>
<path d="M90.5,9.5 L100,15.5 L106,7 L106,9 L100.3,17 L91,11 Z" fill="#b88418"/>
<rect x="120" y="-1" width="11" height="10" fill="#2a7ae0" stroke="#1858b8" stroke-width="0.8"/>
<rect x="123" y="2" width="7" height="2" fill="#d8ecff"/><rect x="123" y="5.5" width="6" height="1.5" fill="#9cc8f8"/>
<path d="M121,16 a3.3,3.3 0 0 1 0.3,-6.5 a4.5,4.5 0 0 1 8.3,-0.7 a3.6,3.6 0 0 1 1.6,7.2 z" fill="#e8eef8" stroke="#6890c8" stroke-width="1"/>
<circle cx="154" cy="8" r="7.5" fill="#e4ecf4"/>
<path d="M154,0.5 a7.5,7.5 0 0 1 0,15 z" fill="#dcecdc"/>
<path d="M150.5,2.5 a6.5,6.5 0 0 0 0,11.5 M152,5 a3.6,3.6 0 0 0 0,6.5" fill="none" stroke="#4870d0" stroke-width="1.2"/>
<path d="M157.5,2.5 a6.5,6.5 0 0 1 0,11.5 M156,5 a3.6,3.6 0 0 1 0,6.5" fill="none" stroke="#6ab070" stroke-width="1.2"/>
<path d="M148.2,0.8 a9,9 0 0 0 0,15" fill="none" stroke="#90a8e0" stroke-width="1"/>
<path d="M159.8,0.8 a9,9 0 0 1 0,15" fill="none" stroke="#a0c8a0" stroke-width="1"/>
<path d="M154.5,8 V16.5 a8,8 0 0 0 5,-3" fill="none" stroke="#28a028" stroke-width="1.5"/>
<circle cx="154" cy="8" r="1.8" fill="#2858d0"/>
<path d="M174,6.5 L186.5,6.5 L188,9 L181,16.5 Z" fill="#f8d048" stroke="#c89818" stroke-width="0.8"/>
<ellipse cx="181" cy="4.5" rx="8" ry="2.6" fill="#58a0e0" stroke="#3878c0" stroke-width="0.8"/>
<path d="M177.5,4 q3.5,-7.5 7,0 z" fill="#68b0e8" stroke="#3878c0" stroke-width="0.8"/>
<circle cx="185.5" cy="11.8" r="4.2" fill="#e02818" stroke="#b01808" stroke-width="0.6"/>
<rect x="183.7" y="10" width="3.6" height="3.6" fill="#fff"/>
<text x="194.5" y="11.2" font-size="11.7" fill="#000" text-anchor="start" font-weight="normal" font-family="Liberation Sans, Noto Sans CJK SC, sans-serif" textLength="46.8" lengthAdjust="spacingAndGlyphs" >自动交易</text>
<rect x="249" y="0" width="1" height="18" fill="#a0a0a0"/>
<rect x="250" y="0" width="1" height="18" fill="#ffffff"/>
<rect x="253" y="0" width="3" height="1" fill="#a8a8a8"/>
<rect x="253" y="2" width="3" height="1" fill="#a8a8a8"/>
<rect x="253" y="4" width="3" height="1" fill="#a8a8a8"/>
<rect x="253" y="6" width="3" height="1" fill="#a8a8a8"/>
<rect x="253" y="8" width="3" height="1" fill="#a8a8a8"/>
<rect x="253" y="10" width="3" height="1" fill="#a8a8a8"/>
<rect x="253" y="12" width="3" height="1" fill="#a8a8a8"/>
<rect x="253" y="14" width="3" height="1" fill="#a8a8a8"/>
<rect x="253" y="16" width="3" height="1" fill="#a8a8a8"/>
<path d="M267.5,15.5 V2.0 M265.0,13.5 H278.5" stroke="#505050" stroke-width="1.1" fill="none"/>
<path d="M265.9,3.5 L267.5,1.5 L269.1,3.5 Z M277.0,11.9 L279.0,13.5 L277.0,15.1 Z" fill="#505050"/>
<path d="M273.5,4 V11 M273.5,4.3 H276.3 M273.5,10.5 H270.8" stroke="#10a010" stroke-width="1.4" fill="none"/>
<rect x="287" y="0" width="1" height="18" fill="#a0a0a0"/>
<rect x="288" y="0" width="1" height="18" fill="#ffffff"/>
<rect x="289" y="0" width="24" height="18" fill="#f8f8f8"/>
<path d="M295.5,15.5 V2.0 M293.0,13.5 H306.5" stroke="#505050" stroke-width="1.1" fill="none"/>
<path d="M293.9,3.5 L295.5,1.5 L297.1,3.5 Z M305.0,11.9 L307.0,13.5 L305.0,15.1 Z" fill="#505050"/>
<path d="M301.5,0 V11.5" stroke="#108810" stroke-width="1.3"/>
<rect x="299.3" y="3" width="4.4" height="6.5" fill="#30d030" stroke="#108810" stroke-width="0.9"/>
<path d="M323.5,15.5 V2.0 M321.0,13.5 H334.5" stroke="#505050" stroke-width="1.1" fill="none"/>
<path d="M321.9,3.5 L323.5,1.5 L325.1,3.5 Z M333.0,11.9 L335.0,13.5 L333.0,15.1 Z" fill="#505050"/>
<path d="M322,10.8 Q325,6.8 327.5,5.2 T330.5,5.5 T334.5,9.3" stroke="#109010" stroke-width="1.3" fill="none"/>
<rect x="344" y="0" width="1" height="18" fill="#a0a0a0"/>
<rect x="345" y="0" width="1" height="18" fill="#ffffff"/>
<line x1="362.8" y1="9.8" x2="368" y2="15" stroke="#c8a428" stroke-width="2.6"/>
<circle cx="359" cy="6" r="5.3" fill="#d4e8fc" stroke="#3a78c8" stroke-width="1.4"/>
<path d="M356,6 H362" stroke="#2868c0" stroke-width="1.8"/>
<path d="M359,3 V9" stroke="#2868c0" stroke-width="1.8"/>
<line x1="391.1" y1="9.8" x2="396.3" y2="15" stroke="#c8a428" stroke-width="2.6"/>
<circle cx="387.3" cy="6" r="5.3" fill="#d4e8fc" stroke="#3a78c8" stroke-width="1.4"/>
<path d="M384.3,6 H390.3" stroke="#2868c0" stroke-width="1.8"/>
<rect x="409.5" y="-0.5" width="7.5" height="7.8" fill="#38a028" stroke="#207010" stroke-width="0.6"/>
<rect x="411.0" y="3" width="4.5" height="3" fill="none" stroke="#fff" stroke-width="1"/>
<rect x="417.5" y="-0.5" width="7.5" height="7.8" fill="#2868d8" stroke="#1848a8" stroke-width="0.6"/>
<rect x="419.0" y="3" width="4.5" height="3" fill="none" stroke="#fff" stroke-width="1"/>
<rect x="409.5" y="7.5" width="7.5" height="7.8" fill="#2868d8" stroke="#1848a8" stroke-width="0.6"/>
<rect x="411.0" y="11" width="4.5" height="3" fill="none" stroke="#fff" stroke-width="1"/>
<rect x="417.5" y="7.5" width="7.5" height="7.8" fill="#38a028" stroke="#207010" stroke-width="0.6"/>
<rect x="419.0" y="11" width="4.5" height="3" fill="none" stroke="#fff" stroke-width="1"/>
<rect x="434" y="0" width="1" height="18" fill="#a0a0a0"/>
<rect x="435" y="0" width="1" height="18" fill="#ffffff"/>
<rect x="439" y="0" width="24" height="18" fill="#f8f8f8"/>
<path d="M447.5,15.3 V1.8000000000000007 M445.0,13.3 H458.5" stroke="#505050" stroke-width="1.1" fill="none"/>
<path d="M445.9,3.3000000000000007 L447.5,1.3000000000000007 L449.1,3.3000000000000007 Z M457.0,11.700000000000001 L459.0,13.3 L457.0,14.9 Z" fill="#505050"/>
<path d="M452.3,4 L456.3,7.2 L452.3,10.5 Z" fill="#40d040" stroke="#109010" stroke-width="1"/>
<rect x="467" y="0" width="1" height="18" fill="#a0a0a0"/>
<rect x="468" y="0" width="1" height="18" fill="#ffffff"/>
<rect x="468" y="0" width="24" height="18" fill="#f8f8f8"/>
<path d="M475,15.3 V1.8000000000000007 M472.5,13.3 H486" stroke="#505050" stroke-width="1.1" fill="none"/>
<path d="M473.4,3.3000000000000007 L475,1.3000000000000007 L476.6,3.3000000000000007 Z M484.5,11.700000000000001 L486.5,13.3 L484.5,14.9 Z" fill="#505050"/>
<path d="M481,2 V12" stroke="#2060c0" stroke-width="1.3"/>
<path d="M488,7.3 H483.5" stroke="#d03010" stroke-width="1.2"/><path d="M485.3,5 L482.3,7.3 L485.3,9.6 Z" fill="#d03010"/>
<rect x="496" y="0" width="1" height="18" fill="#a0a0a0"/>
<rect x="497" y="0" width="1" height="18" fill="#ffffff"/>
<path d="M506.5,0.5 h7 l3.5,3.5 v9 h-10.5 z" fill="#fff" stroke="#686868" stroke-width="1"/>
<path d="M508.5,3 h3 M508.5,5.5 h5 M508.5,8 h5" stroke="#808080" stroke-width="1"/>
<path d="M514.5,6.5 h3.5 v3.8 h3.8 v3.5 h-3.8 v3.8 h-3.5 v-3.8 h-3.8 v-3.5 h3.8 z" fill="#22c022" stroke="#108810" stroke-width="0.8"/>
<polygon points="527.7,6.4 533.3,6.4 530.5,9.6" fill="#000"/>
<circle cx="551.8" cy="7.3" r="7.3" fill="#fff" stroke="#2468d0" stroke-width="2.2"/>
<path d="M551.8,3 V7.6 H555" stroke="#404040" stroke-width="1.2" fill="none"/>
<polygon points="566.7,6.4 572.3,6.4 569.5,9.6" fill="#000"/>
<rect x="583.5" y="1.5" width="15.5" height="13.5" fill="#fff" stroke="#3070c8" stroke-width="1.2"/>
<rect x="583.5" y="1" width="15.5" height="2" fill="#3878d0"/>
<path d="M584,8.7 H599" stroke="#3070c8" stroke-width="0.9"/>
<path d="M585.5,7 L588,5.5 L590.5,6.5 L593,4.8 L595.5,5.8 L597.5,4.8" stroke="#c02810" stroke-width="1.2" fill="none"/>
<path d="M585.5,12.8 L588,11.3 L590,12.5 L593,10.5 L595,12.2 L597.5,11" stroke="#109010" stroke-width="1.2" fill="none"/>
<polygon points="605.7,6.4 611.3,6.4 608.5,9.6" fill="#000"/>
<rect x="617" y="0" width="1" height="18" fill="#a0a0a0"/>
<rect x="618" y="0" width="1" height="18" fill="#ffffff"/>
<rect x="621" y="0" width="3" height="1" fill="#a8a8a8"/>
<rect x="621" y="2" width="3" height="1" fill="#a8a8a8"/>
<rect x="621" y="4" width="3" height="1" fill="#a8a8a8"/>
<rect x="621" y="6" width="3" height="1" fill="#a8a8a8"/>
<rect x="621" y="8" width="3" height="1" fill="#a8a8a8"/>
<rect x="621" y="10" width="3" height="1" fill="#a8a8a8"/>
<rect x="621" y="12" width="3" height="1" fill="#a8a8a8"/>
<rect x="621" y="14" width="3" height="1" fill="#a8a8a8"/>
<rect x="621" y="16" width="3" height="1" fill="#a8a8a8"/>
<rect x="627" y="0" width="1" height="18" fill="#a0a0a0"/>
<rect x="628" y="0" width="1" height="18" fill="#ffffff"/>
<rect x="629" y="0" width="24" height="18" fill="#f8f8f8"/>
<path d="M634.8,1 V12.5 L637.6,10 L640,15 L642,14 L639.7,9.2 L643.5,9 Z" fill="#404040"/>
<path d="M660,8.5 H666 M669.5,8.5 H675.5 M667.7,1 V6.5 M667.7,10.5 V16" stroke="#404040" stroke-width="1.1" fill="none"/>
<path d="M667,8.5 H668.5" stroke="#808080" stroke-width="1"/>
<rect x="684" y="0" width="1" height="18" fill="#a0a0a0"/>
<rect x="685" y="0" width="1" height="18" fill="#ffffff"/>
<path d="M701.5,2 V15" stroke="#505050" stroke-width="1.3"/>
<path d="M724,8.5 H736" stroke="#505050" stroke-width="1.3"/>
<path d="M752,15 L764.5,2.5" stroke="#505050" stroke-width="1.3"/>
<path d="M778,10 L790,0.5 M780,14 L792,4.5 M780.5,7 V14 M784,4 V11.5 M787.5,2 V9 M790.5,0 V6" stroke="#505050" stroke-width="1.1" fill="none"/>
<text x="789.5" y="16.5" font-size="6.5" fill="#303030" text-anchor="start" font-weight="bold" >E</text>
<path d="M807,1.5 H820" stroke="#505050" stroke-width="1.1" stroke-dasharray="1,1"/>
<path d="M807,4.5 H820" stroke="#505050" stroke-width="1.1" stroke-dasharray="1,1"/>
<path d="M807,8.5 H820" stroke="#505050" stroke-width="1.1" stroke-dasharray="1,1"/>
<path d="M807,12.5 H815" stroke="#505050" stroke-width="1.1" stroke-dasharray="1,1"/>
<text x="817" y="16.5" font-size="6.5" fill="#303030" text-anchor="start" font-weight="bold" >F</text>
<text x="837.2" y="12.6" font-size="12.5" fill="#606060" text-anchor="start" font-weight="normal" textLength="8.8" lengthAdjust="spacingAndGlyphs" >A</text>
<rect x="864" y="1" width="1" height="1" fill="#505050"/><rect x="864" y="14" width="1" height="1" fill="#505050"/>
<rect x="866" y="1" width="1" height="1" fill="#505050"/><rect x="866" y="14" width="1" height="1" fill="#505050"/>
<rect x="868" y="1" width="1" height="1" fill="#505050"/><rect x="868" y="14" width="1" height="1" fill="#505050"/>
<rect x="870" y="1" width="1" height="1" fill="#505050"/><rect x="870" y="14" width="1" height="1" fill="#505050"/>
<rect x="872" y="1" width="1" height="1" fill="#505050"/><rect x="872" y="14" width="1" height="1" fill="#505050"/>
<rect x="874" y="1" width="1" height="1" fill="#505050"/><rect x="874" y="14" width="1" height="1" fill="#505050"/>
<rect x="876" y="1" width="1" height="1" fill="#505050"/><rect x="876" y="14" width="1" height="1" fill="#505050"/>
<rect x="864" y="1" width="1" height="1" fill="#505050"/><rect x="876" y="1" width="1" height="1" fill="#505050"/>
<rect x="864" y="3" width="1" height="1" fill="#505050"/><rect x="876" y="3" width="1" height="1" fill="#505050"/>
<rect x="864" y="5" width="1" height="1" fill="#505050"/><rect x="876" y="5" width="1" height="1" fill="#505050"/>
<rect x="864" y="7" width="1" height="1" fill="#505050"/><rect x="876" y="7" width="1" height="1" fill="#505050"/>
<rect x="864" y="9" width="1" height="1" fill="#505050"/><rect x="876" y="9" width="1" height="1" fill="#505050"/>
<rect x="864" y="11" width="1" height="1" fill="#505050"/><rect x="876" y="11" width="1" height="1" fill="#505050"/>
<rect x="864" y="13" width="1" height="1" fill="#505050"/><rect x="876" y="13" width="1" height="1" fill="#505050"/>
<text x="866.6" y="12.4" font-size="11.5" fill="#484848" text-anchor="start" font-weight="bold" >T</text>
<path d="M894.5,2 L897.5,5 L894.5,8 L891.5,5 Z M902,9 L905,12 L902,15 L899,12 Z" fill="#484848"/>
<path d="M893,9.5 L895.5,12 L901,5" stroke="#484848" stroke-width="1.4" fill="none"/>
<polygon points="911.5,6.4 917.0999999999999,6.4 914.3,9.6" fill="#000"/>
<rect x="923" y="0" width="1" height="18" fill="#a0a0a0"/>
<rect x="924" y="0" width="1" height="18" fill="#ffffff"/>
<rect x="927" y="0" width="3" height="1" fill="#a8a8a8"/>
<rect x="927" y="2" width="3" height="1" fill="#a8a8a8"/>
<rect x="927" y="4" width="3" height="1" fill="#a8a8a8"/>
<rect x="927" y="6" width="3" height="1" fill="#a8a8a8"/>
<rect x="927" y="8" width="3" height="1" fill="#a8a8a8"/>
<rect x="927" y="10" width="3" height="1" fill="#a8a8a8"/>
<rect x="927" y="12" width="3" height="1" fill="#a8a8a8"/>
<rect x="927" y="14" width="3" height="1" fill="#a8a8a8"/>
<rect x="927" y="16" width="3" height="1" fill="#a8a8a8"/>
<rect x="1073" y="0" width="1" height="18" fill="#a0a0a0"/>
<rect x="1074" y="0" width="1" height="18" fill="#ffffff"/>
<rect x="1075" y="0" width="24" height="18" fill="#f8f8f8"/>
<text x="939" y="11.8" font-size="9.3" fill="#505050" text-anchor="start" font-weight="normal" textLength="12" lengthAdjust="spacingAndGlyphs" >M1</text>
<text x="966.6" y="11.8" font-size="9.3" fill="#505050" text-anchor="start" font-weight="normal" textLength="12.4" lengthAdjust="spacingAndGlyphs" >M5</text>
<text x="992.6" y="11.8" font-size="9.3" fill="#505050" text-anchor="start" font-weight="normal" textLength="17.4" lengthAdjust="spacingAndGlyphs" >M15</text>
<text x="1020.5" y="11.8" font-size="9.3" fill="#505050" text-anchor="start" font-weight="normal" textLength="17.7" lengthAdjust="spacingAndGlyphs" >M30</text>
<text x="1051.8" y="11.8" font-size="9.3" fill="#505050" text-anchor="start" font-weight="normal" textLength="11.2" lengthAdjust="spacingAndGlyphs" >H1</text>
<text x="1078.6" y="11.8" font-size="9.3" fill="#505050" text-anchor="start" font-weight="normal" textLength="12.4" lengthAdjust="spacingAndGlyphs" >H4</text>
<text x="1107.6" y="11.8" font-size="9.3" fill="#505050" text-anchor="start" font-weight="normal" textLength="11.8" lengthAdjust="spacingAndGlyphs" >D1</text>
<text x="1135.5" y="11.8" font-size="9.3" fill="#505050" text-anchor="start" font-weight="normal" textLength="13.5" lengthAdjust="spacingAndGlyphs" >W1</text>
<text x="1162" y="11.8" font-size="9.3" fill="#505050" text-anchor="start" font-weight="normal" textLength="14" lengthAdjust="spacingAndGlyphs" >MN</text>
<rect x="1184" y="0" width="1" height="18" fill="#a0a0a0"/>
<rect x="1185" y="0" width="1" height="18" fill="#ffffff"/>
<line x1="1651.6" y1="8.4" x2="1647" y2="12.8" stroke="#2858c8" stroke-width="2.6"/>
<circle cx="1654.6" cy="5.5" r="3.9" fill="#f0f0fc" stroke="#2a64d8" stroke-width="1.3"/>
<path d="M1674.5,16.5 L1675,13.8 A5.2,4.3 0 1 1 1678.5,14.3 Z" fill="#dcdce4" stroke="#a8a8a8" stroke-width="0.9"/>
<defs><linearGradient id="gbadge" x1="0" y1="0" x2="0" y2="1"><stop offset="0" stop-color="#ea5838"/><stop offset="1" stop-color="#d41800"/></linearGradient></defs>
<circle cx="1685.4" cy="6" r="8.3" fill="url(#gbadge)"/>
<text x="1684.8" y="10" font-size="11.5" fill="#fff" text-anchor="middle" font-weight="bold" >1</text>
</g>
<rect x="0" y="19" width="1699" height="1" fill="#f8f8f8"/>
<rect x="0" y="20" width="1699" height="1" fill="#a0a0a0"/>
<rect x="0" y="21" width="1699" height="1" fill="#696969"/>
</svg></body></html>
